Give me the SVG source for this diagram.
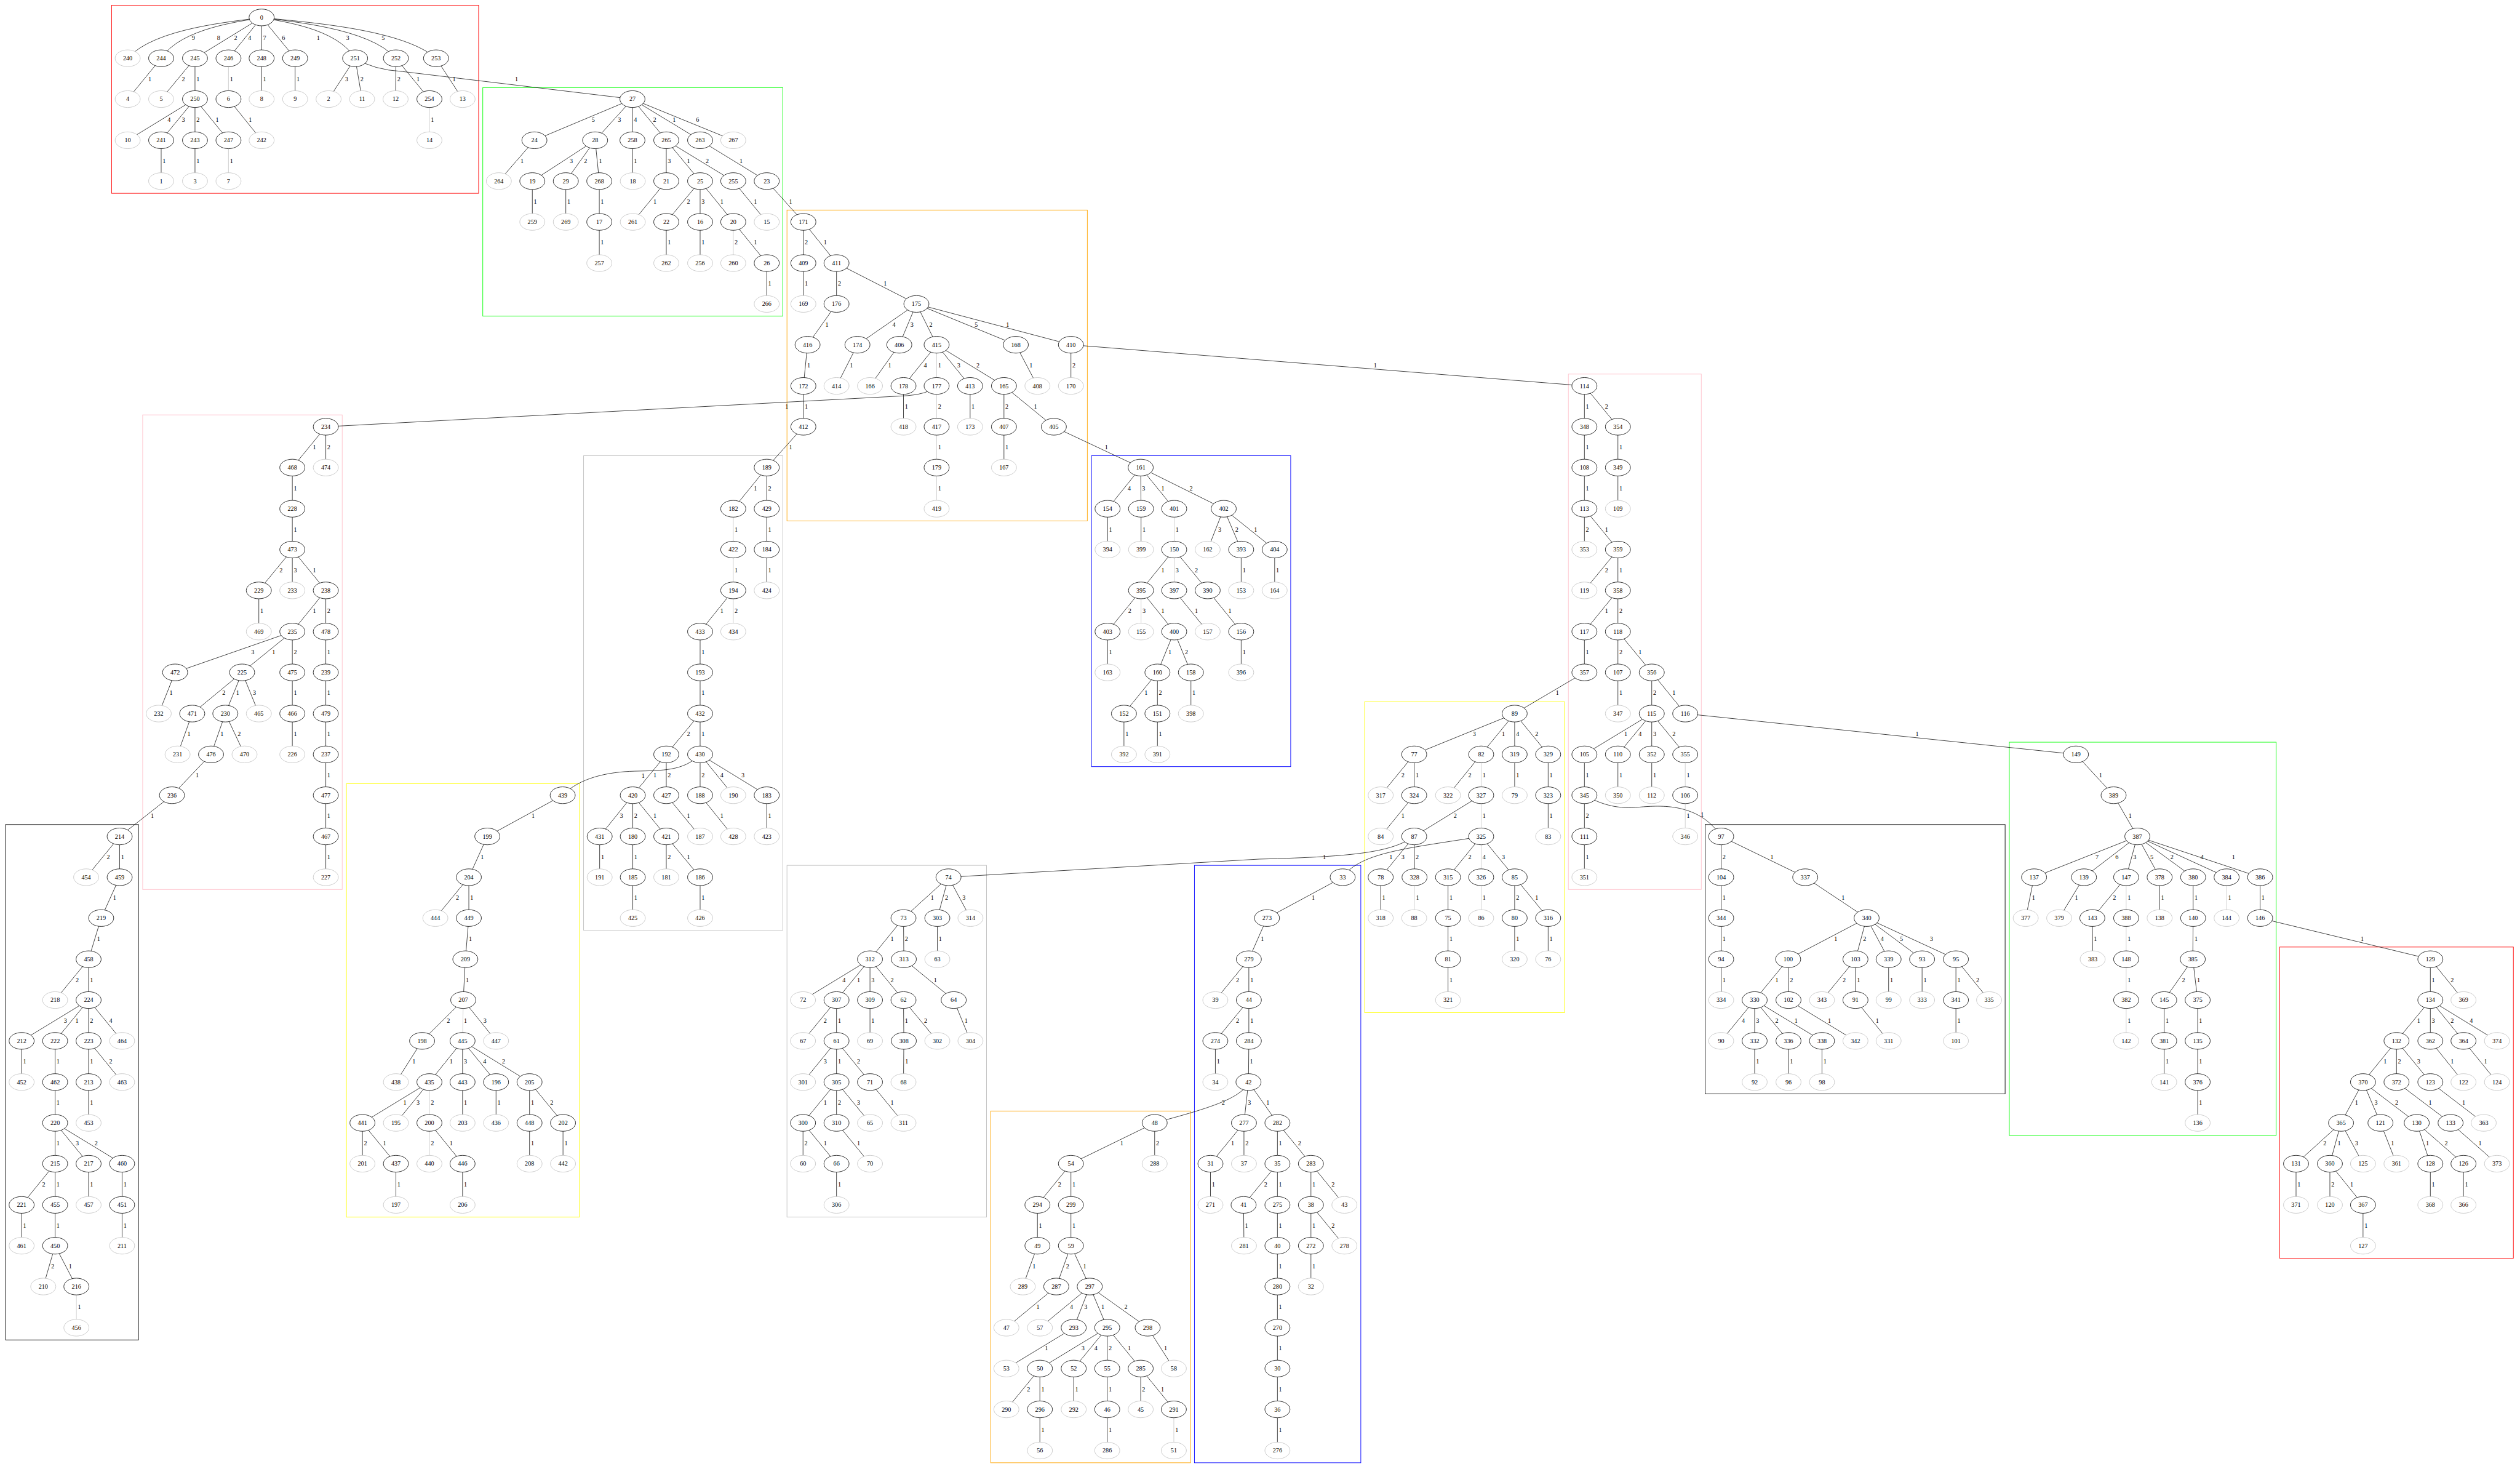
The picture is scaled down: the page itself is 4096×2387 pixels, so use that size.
<svg xmlns="http://www.w3.org/2000/svg" width="4096" height="2387" viewBox="0 0 4096 2387">
<style>
.cl{fill:none;stroke-width:1.6}
#connectors path{fill:none;stroke:#000;stroke-width:1.3}
#connectors path.g{stroke:#c0c0c0}
text{font-family:"Liberation Serif","Times New Roman",serif;font-size:18px;fill:#000}
.n text{text-anchor:middle}
.n ellipse{fill:#fff;stroke:#000;stroke-width:1.4}
.n.l ellipse{stroke:#c0c0c0}
</style>
<rect x="0" y="0" width="4096" height="2387" fill="#fff"/>
<g transform="scale(0.567)">
<g id="clusters">
<rect class="cl" x="320" y="15" width="1052" height="539" stroke="#ff0000"/>
<rect class="cl" x="1384" y="251" width="860" height="655" stroke="#00ff00"/>
<rect class="cl" x="2256" y="602" width="861" height="891" stroke="#ffa500"/>
<rect class="cl" x="409" y="1189" width="572" height="1360" stroke="#ffc0cb"/>
<rect class="cl" x="1673" y="1306" width="571" height="1360" stroke="#c0c0c0"/>
<rect class="cl" x="3129" y="1306" width="571" height="891" stroke="#0000ff"/>
<rect class="cl" x="4496" y="1072" width="381" height="1477" stroke="#ffc0cb"/>
<rect class="cl" x="3912" y="2011" width="573" height="891" stroke="#ffff00"/>
<rect class="cl" x="993" y="2246" width="668" height="1242" stroke="#ffff00"/>
<rect class="cl" x="16" y="2363" width="381" height="1477" stroke="#000000"/>
<rect class="cl" x="2256" y="2480" width="572" height="1008" stroke="#c0c0c0"/>
<rect class="cl" x="3424" y="2480" width="477" height="1712" stroke="#0000ff"/>
<rect class="cl" x="2840" y="3184" width="573" height="1008" stroke="#ffa500"/>
<rect class="cl" x="4888" y="2363" width="860" height="772" stroke="#000000"/>
<rect class="cl" x="5760" y="2127" width="765" height="1127" stroke="#00ff00"/>
<rect class="cl" x="6535" y="2714" width="670" height="892" stroke="#ff0000"/>
</g>
<g id="connectors">
<path d="M750 50C673 62 443 79 366 167"/><text x="550" y="115">9</text>
<path d="M750 50C692 62 520 79 462 167"/><text x="622" y="115">8</text>
<path d="M750 50L559 167"/><text x="671" y="115">2</text>
<path d="M750 50L655 167"/><text x="711" y="115">4</text>
<path d="M750 50L750 167"/><text x="754" y="115">7</text>
<path d="M750 50L846 167"/><text x="808" y="115">6</text>
<path d="M750 50C804 62 964 79 1018 167"/><text x="908" y="115">1</text>
<path d="M750 50C827 62 1058 79 1135 167"/><text x="992" y="115">3</text>
<path d="M750 50C850 62 1150 79 1250 167"/><text x="1094" y="115">5</text>
<path d="M462 167L366 284"/><text x="425" y="232">1</text>
<path d="M559 167L462 284"/><text x="521" y="232">2</text>
<path d="M559 167L559 284"/><text x="563" y="232">1</text>
<path class="g" d="M655 167L655 284"/><text x="659" y="232">1</text>
<path d="M750 167L750 284"/><text x="754" y="232">1</text>
<path d="M846 167L846 284"/><text x="850" y="232">1</text>
<path d="M1018 167L942 284"/><text x="989" y="232">3</text>
<path d="M1018 167L1038 284"/><text x="1033" y="232">2</text>
<path d="M1018 167Q1070 200 1154 205L1813 284"/><text x="1476" y="233">1</text>
<path d="M1135 167L1134 284"/><text x="1139" y="232">2</text>
<path d="M1135 167L1231 284"/><text x="1194" y="232">1</text>
<path d="M1250 167L1326 284"/><text x="1297" y="232">1</text>
<path d="M559 284L366 402"/><text x="480" y="349">4</text>
<path d="M559 284L462 402"/><text x="521" y="349">3</text>
<path d="M559 284L559 402"/><text x="563" y="349">2</text>
<path d="M559 284L655 402"/><text x="618" y="349">1</text>
<path d="M655 284L750 402"/><text x="713" y="349">1</text>
<path class="g" d="M1231 284L1231 402"/><text x="1235" y="349">1</text>
<path d="M462 402L462 519"/><text x="466" y="467">1</text>
<path d="M559 402L559 519"/><text x="563" y="467">1</text>
<path class="g" d="M655 402L655 519"/><text x="659" y="467">1</text>
<path d="M1813 284L1532 402"/><text x="1696" y="349">5</text>
<path d="M1813 284L1706 402"/><text x="1771" y="349">3</text>
<path d="M1813 284L1813 402"/><text x="1817" y="349">4</text>
<path d="M1813 284L1910 402"/><text x="1872" y="349">2</text>
<path d="M1813 284L2007 402"/><text x="1928" y="349">1</text>
<path d="M1813 284L2102 402"/><text x="1995" y="349">6</text>
<path d="M1532 402L1430 519"/><text x="1492" y="467">1</text>
<path d="M1706 402L1526 519"/><text x="1633" y="467">3</text>
<path d="M1706 402L1622 519"/><text x="1674" y="467">2</text>
<path d="M1706 402L1718 519"/><text x="1717" y="467">1</text>
<path d="M1813 402L1814 519"/><text x="1817" y="467">1</text>
<path d="M1910 402L1910 519"/><text x="1914" y="467">3</text>
<path d="M1910 402L2007 519"/><text x="1969" y="467">1</text>
<path d="M1910 402L2102 519"/><text x="2023" y="467">2</text>
<path d="M2007 402L2198 519"/><text x="2120" y="467">1</text>
<path d="M1526 519L1526 636"/><text x="1530" y="584">1</text>
<path d="M1622 519L1622 636"/><text x="1626" y="584">1</text>
<path d="M1718 519L1718 636"/><text x="1722" y="584">1</text>
<path d="M1910 519L1814 636"/><text x="1873" y="584">1</text>
<path d="M2007 519L1910 636"/><text x="1969" y="584">2</text>
<path d="M2007 519L2007 636"/><text x="2011" y="584">3</text>
<path d="M2007 519L2102 636"/><text x="2065" y="584">1</text>
<path d="M2102 519L2198 636"/><text x="2161" y="584">1</text>
<path d="M2198 519L2303 636"/><text x="2262" y="584">1</text>
<path d="M1718 636L1718 754"/><text x="1722" y="701">1</text>
<path d="M1910 636L1910 754"/><text x="1914" y="701">1</text>
<path d="M2007 636L2007 754"/><text x="2011" y="701">1</text>
<path class="g" d="M2102 636L2102 754"/><text x="2106" y="701">2</text>
<path d="M2102 636L2198 754"/><text x="2161" y="701">1</text>
<path d="M2198 754L2198 871"/><text x="2202" y="819">1</text>
<path d="M2303 636L2303 754"/><text x="2307" y="701">2</text>
<path d="M2303 636L2398 754"/><text x="2361" y="701">1</text>
<path d="M2303 754L2303 871"/><text x="2307" y="819">1</text>
<path d="M2398 754L2398 871"/><text x="2402" y="819">2</text>
<path d="M2398 754L2627 871"/><text x="2533" y="819">1</text>
<path d="M2398 871L2315 988"/><text x="2366" y="936">1</text>
<path d="M2627 871L2458 988"/><text x="2558" y="936">4</text>
<path d="M2627 871L2578 988"/><text x="2610" y="936">3</text>
<path d="M2627 871L2685 988"/><text x="2664" y="936">2</text>
<path d="M2627 871L2912 988"/><text x="2794" y="936">5</text>
<path d="M2627 871L3070 988"/><text x="2884" y="936">1</text>
<path d="M2315 988L2303 1106"/><text x="2314" y="1053">1</text>
<path d="M2458 988L2398 1106"/><text x="2436" y="1053">1</text>
<path d="M2578 988L2494 1106"/><text x="2546" y="1053">1</text>
<path d="M2685 988L2590 1106"/><text x="2648" y="1053">4</text>
<path class="g" d="M2685 988L2685 1106"/><text x="2689" y="1053">1</text>
<path d="M2685 988L2781 1106"/><text x="2744" y="1053">3</text>
<path d="M2685 988L2878 1106"/><text x="2799" y="1053">2</text>
<path d="M2912 988L2974 1106"/><text x="2951" y="1053">1</text>
<path d="M3070 988L3070 1106"/><text x="3074" y="1053">2</text>
<path d="M3070 988L4542 1106"/><text x="3938" y="1053">1</text>
<path d="M2303 1106L2303 1223"/><text x="2307" y="1171">1</text>
<path d="M2590 1106L2590 1223"/><text x="2594" y="1171">1</text>
<path class="g" d="M2685 1106L2685 1223"/><text x="2689" y="1171">2</text>
<path d="M2685 1106Q2660 1130 2600 1134L934 1223"/><text x="2251" y="1171">1</text>
<path d="M2781 1106L2781 1223"/><text x="2785" y="1171">1</text>
<path d="M2878 1106L2878 1223"/><text x="2882" y="1171">2</text>
<path d="M2878 1106L3021 1223"/><text x="2964" y="1171">1</text>
<path d="M2303 1223L2198 1340"/><text x="2262" y="1288">1</text>
<path class="g" d="M2685 1223L2685 1340"/><text x="2689" y="1288">1</text>
<path d="M2878 1223L2878 1340"/><text x="2882" y="1288">1</text>
<path d="M3021 1223L3270 1340"/><text x="3167" y="1288">1</text>
<path class="g" d="M2685 1340L2685 1458"/><text x="2689" y="1405">1</text>
<path d="M3270 1340L3175 1458"/><text x="3233" y="1405">4</text>
<path d="M3270 1340L3271 1458"/><text x="3274" y="1405">3</text>
<path d="M3270 1340L3366 1458"/><text x="3329" y="1405">1</text>
<path d="M3270 1340L3508 1458"/><text x="3410" y="1405">2</text>
<path d="M3175 1458L3175 1575"/><text x="3179" y="1523">1</text>
<path d="M3271 1458L3271 1575"/><text x="3275" y="1523">1</text>
<path class="g" d="M3366 1458L3366 1575"/><text x="3370" y="1523">1</text>
<path d="M3508 1458L3462 1575"/><text x="3492" y="1523">3</text>
<path d="M3508 1458L3558 1575"/><text x="3541" y="1523">2</text>
<path d="M3508 1458L3654 1575"/><text x="3595" y="1523">1</text>
<path d="M3366 1575L3271 1692"/><text x="3329" y="1640">1</text>
<path class="g" d="M3366 1575L3366 1692"/><text x="3370" y="1640">3</text>
<path d="M3366 1575L3462 1692"/><text x="3425" y="1640">2</text>
<path d="M3558 1575L3558 1692"/><text x="3562" y="1640">1</text>
<path d="M3654 1575L3654 1692"/><text x="3658" y="1640">1</text>
<path d="M3271 1692L3175 1810"/><text x="3234" y="1757">2</text>
<path class="g" d="M3271 1692L3271 1810"/><text x="3275" y="1757">3</text>
<path d="M3271 1692L3366 1810"/><text x="3329" y="1757">1</text>
<path d="M3366 1692L3462 1810"/><text x="3425" y="1757">1</text>
<path d="M3462 1692L3558 1810"/><text x="3521" y="1757">1</text>
<path d="M3175 1810L3175 1927"/><text x="3179" y="1875">1</text>
<path d="M3366 1810L3318 1927"/><text x="3349" y="1875">1</text>
<path d="M3366 1810L3414 1927"/><text x="3397" y="1875">2</text>
<path d="M3558 1810L3558 1927"/><text x="3562" y="1875">1</text>
<path d="M3318 1927L3222 2045"/><text x="3281" y="1992">1</text>
<path d="M3318 1927L3318 2045"/><text x="3322" y="1992">2</text>
<path d="M3414 1927L3414 2045"/><text x="3418" y="1992">1</text>
<path d="M3222 2045L3222 2162"/><text x="3226" y="2110">1</text>
<path d="M3318 2045L3318 2162"/><text x="3322" y="2110">1</text>
<path d="M2198 1340L2102 1458"/><text x="2161" y="1405">1</text>
<path d="M2198 1340L2198 1458"/><text x="2202" y="1405">2</text>
<path class="g" d="M2102 1458L2102 1575"/><text x="2106" y="1523">1</text>
<path d="M2198 1458L2198 1575"/><text x="2202" y="1523">1</text>
<path class="g" d="M2102 1575L2102 1692"/><text x="2106" y="1640">1</text>
<path d="M2198 1575L2198 1692"/><text x="2202" y="1640">1</text>
<path d="M2102 1692L2007 1810"/><text x="2065" y="1757">1</text>
<path class="g" d="M2102 1692L2102 1810"/><text x="2106" y="1757">2</text>
<path d="M2007 1810L2007 1927"/><text x="2011" y="1875">1</text>
<path d="M2007 1927L2007 2045"/><text x="2011" y="1992">1</text>
<path d="M2007 2045L1910 2162"/><text x="1969" y="2110">2</text>
<path d="M2007 2045L2007 2162"/><text x="2011" y="2110">1</text>
<path d="M1910 2162L1814 2279"/><text x="1873" y="2227">1</text>
<path d="M1910 2162L1910 2279"/><text x="1914" y="2227">2</text>
<path d="M2007 2162C1960 2210 1900 2208 1820 2210C1740 2212 1660 2230 1613 2279"/><text x="1839" y="2229">1</text>
<path d="M2007 2162L2007 2279"/><text x="2011" y="2227">2</text>
<path d="M2007 2162L2102 2279"/><text x="2065" y="2227">4</text>
<path d="M2007 2162L2198 2279"/><text x="2125" y="2227">3</text>
<path d="M1814 2279L1719 2397"/><text x="1777" y="2344">3</text>
<path d="M1814 2279L1814 2397"/><text x="1818" y="2344">2</text>
<path d="M1814 2279L1910 2397"/><text x="1873" y="2344">1</text>
<path d="M1910 2279L2007 2397"/><text x="1969" y="2344">1</text>
<path d="M2007 2279L2102 2397"/><text x="2065" y="2344">1</text>
<path d="M2198 2279L2198 2397"/><text x="2202" y="2344">1</text>
<path d="M1719 2397L1719 2514"/><text x="1723" y="2462">1</text>
<path d="M1814 2397L1814 2514"/><text x="1818" y="2462">1</text>
<path d="M1910 2397L1910 2514"/><text x="1914" y="2462">2</text>
<path d="M1910 2397L2007 2514"/><text x="1969" y="2462">1</text>
<path d="M1814 2514L1814 2631"/><text x="1818" y="2579">1</text>
<path d="M2007 2514L2007 2631"/><text x="2011" y="2579">1</text>
<path d="M1613 2279L1397 2397"/><text x="1524" y="2344">1</text>
<path d="M1397 2397L1344 2514"/><text x="1378" y="2462">1</text>
<path d="M1344 2514L1248 2631"/><text x="1307" y="2579">2</text>
<path d="M1344 2514L1344 2631"/><text x="1348" y="2579">1</text>
<path d="M1344 2631L1334 2749"/><text x="1344" y="2696">1</text>
<path d="M1334 2749L1328 2866"/><text x="1335" y="2814">1</text>
<path d="M1328 2866L1210 2983"/><text x="1281" y="2931">2</text>
<path class="g" d="M1328 2866L1326 2983"/><text x="1330" y="2931">1</text>
<path d="M1328 2866L1422 2983"/><text x="1386" y="2931">3</text>
<path d="M1210 2983L1135 3101"/><text x="1182" y="3048">1</text>
<path d="M1326 2983L1231 3101"/><text x="1289" y="3048">1</text>
<path d="M1326 2983L1326 3101"/><text x="1330" y="3048">3</text>
<path d="M1326 2983L1422 3101"/><text x="1385" y="3048">4</text>
<path d="M1326 2983L1518 3101"/><text x="1439" y="3048">2</text>
<path d="M1231 3101L1039 3218"/><text x="1156" y="3166">1</text>
<path d="M1231 3101L1135 3218"/><text x="1194" y="3166">3</text>
<path class="g" d="M1231 3101L1231 3218"/><text x="1235" y="3166">2</text>
<path d="M1326 3101L1326 3218"/><text x="1330" y="3166">1</text>
<path d="M1422 3101L1422 3218"/><text x="1426" y="3166">1</text>
<path d="M1518 3101L1518 3218"/><text x="1522" y="3166">1</text>
<path d="M1518 3101L1614 3218"/><text x="1577" y="3166">2</text>
<path d="M1039 3218L1039 3335"/><text x="1043" y="3283">2</text>
<path d="M1039 3218L1135 3335"/><text x="1098" y="3283">1</text>
<path class="g" d="M1231 3218L1231 3335"/><text x="1235" y="3283">2</text>
<path d="M1231 3218L1326 3335"/><text x="1289" y="3283">1</text>
<path d="M1518 3218L1518 3335"/><text x="1522" y="3283">1</text>
<path d="M1614 3218L1614 3335"/><text x="1618" y="3283">1</text>
<path d="M1135 3335L1135 3453"/><text x="1139" y="3400">1</text>
<path d="M1326 3335L1326 3453"/><text x="1330" y="3400">1</text>
<path d="M934 1223L838 1340"/><text x="897" y="1288">1</text>
<path d="M934 1223L934 1340"/><text x="938" y="1288">2</text>
<path d="M838 1340L838 1458"/><text x="842" y="1405">1</text>
<path d="M838 1458L838 1575"/><text x="842" y="1523">1</text>
<path d="M838 1575L742 1692"/><text x="801" y="1640">2</text>
<path d="M838 1575L838 1692"/><text x="842" y="1640">3</text>
<path d="M838 1575L934 1692"/><text x="897" y="1640">1</text>
<path d="M742 1692L742 1810"/><text x="746" y="1757">1</text>
<path d="M934 1692L838 1810"/><text x="897" y="1757">1</text>
<path d="M934 1692L934 1810"/><text x="938" y="1757">2</text>
<path d="M838 1810L502 1927"/><text x="720" y="1875">3</text>
<path d="M838 1810L694 1927"/><text x="780" y="1875">1</text>
<path d="M838 1810L838 1927"/><text x="842" y="1875">2</text>
<path d="M934 1810L934 1927"/><text x="938" y="1875">1</text>
<path d="M502 1927L455 2045"/><text x="486" y="1992">1</text>
<path d="M694 1927L551 2045"/><text x="637" y="1992">2</text>
<path d="M694 1927L646 2045"/><text x="677" y="1992">1</text>
<path d="M694 1927L742 2045"/><text x="725" y="1992">3</text>
<path d="M838 1927L838 2045"/><text x="842" y="1992">1</text>
<path d="M934 1927L934 2045"/><text x="938" y="1992">1</text>
<path d="M551 2045L509 2162"/><text x="537" y="2110">1</text>
<path d="M646 2045L605 2162"/><text x="632" y="2110">1</text>
<path d="M646 2045L701 2162"/><text x="681" y="2110">2</text>
<path d="M838 2045L838 2162"/><text x="842" y="2110">1</text>
<path d="M934 2045L934 2162"/><text x="938" y="2110">1</text>
<path d="M605 2162L493 2279"/><text x="561" y="2227">1</text>
<path d="M934 2162L934 2279"/><text x="938" y="2227">1</text>
<path d="M493 2279L343 2397"/><text x="432" y="2344">1</text>
<path d="M934 2279L934 2397"/><text x="938" y="2344">1</text>
<path d="M934 2397L934 2514"/><text x="938" y="2462">1</text>
<path d="M343 2397L247 2514"/><text x="306" y="2462">2</text>
<path d="M343 2397L343 2514"/><text x="347" y="2462">1</text>
<path d="M343 2514L290 2631"/><text x="324" y="2579">1</text>
<path d="M290 2631L254 2749"/><text x="278" y="2696">1</text>
<path d="M254 2749L158 2866"/><text x="217" y="2814">2</text>
<path d="M254 2749L254 2866"/><text x="258" y="2814">1</text>
<path d="M254 2866L62 2983"/><text x="183" y="2931">3</text>
<path d="M254 2866L158 2983"/><text x="216" y="2931">1</text>
<path d="M254 2866L254 2983"/><text x="258" y="2931">2</text>
<path d="M254 2866L350 2983"/><text x="313" y="2931">4</text>
<path d="M62 2983L62 3101"/><text x="66" y="3048">1</text>
<path d="M158 2983L158 3101"/><text x="162" y="3048">1</text>
<path d="M254 2983L254 3101"/><text x="258" y="3048">1</text>
<path d="M254 2983L350 3101"/><text x="313" y="3048">2</text>
<path d="M158 3101L158 3218"/><text x="162" y="3166">1</text>
<path d="M254 3101L254 3218"/><text x="258" y="3166">1</text>
<path d="M158 3218L158 3335"/><text x="162" y="3283">1</text>
<path d="M158 3218L254 3335"/><text x="217" y="3283">3</text>
<path d="M158 3218L350 3335"/><text x="271" y="3283">2</text>
<path d="M158 3335L62 3453"/><text x="121" y="3400">2</text>
<path d="M158 3335L158 3453"/><text x="162" y="3400">1</text>
<path d="M254 3335L254 3453"/><text x="258" y="3400">1</text>
<path d="M350 3335L350 3453"/><text x="354" y="3400">1</text>
<path d="M62 3453L62 3570"/><text x="66" y="3518">1</text>
<path d="M158 3453L158 3570"/><text x="162" y="3518">1</text>
<path d="M350 3453L350 3570"/><text x="354" y="3518">1</text>
<path d="M158 3570L124 3687"/><text x="147" y="3635">2</text>
<path d="M158 3570L219 3687"/><text x="197" y="3635">1</text>
<path class="g" d="M219 3687L219 3805"/><text x="223" y="3752">1</text>
<path d="M4054 2397C3990 2440 3900 2455 3610 2462L2719 2514"/><text x="3792" y="2462">1</text>
<path d="M2719 2514L2590 2631"/><text x="2668" y="2579">1</text>
<path d="M2719 2514L2687 2631"/><text x="2709" y="2579">2</text>
<path d="M2719 2514L2782 2631"/><text x="2759" y="2579">3</text>
<path d="M2590 2631L2494 2749"/><text x="2553" y="2696">1</text>
<path d="M2590 2631L2591 2749"/><text x="2594" y="2696">2</text>
<path d="M2687 2631L2687 2749"/><text x="2691" y="2696">1</text>
<path d="M2494 2749L2302 2866"/><text x="2415" y="2814">4</text>
<path d="M2494 2749L2398 2866"/><text x="2457" y="2814">1</text>
<path d="M2494 2749L2494 2866"/><text x="2498" y="2814">3</text>
<path d="M2494 2749L2590 2866"/><text x="2553" y="2814">2</text>
<path d="M2591 2749L2734 2866"/><text x="2677" y="2814">1</text>
<path d="M2398 2866L2302 2983"/><text x="2361" y="2931">2</text>
<path d="M2398 2866L2398 2983"/><text x="2402" y="2931">1</text>
<path d="M2494 2866L2494 2983"/><text x="2498" y="2931">1</text>
<path d="M2590 2866L2591 2983"/><text x="2594" y="2931">1</text>
<path d="M2590 2866L2687 2983"/><text x="2649" y="2931">2</text>
<path d="M2734 2866L2782 2983"/><text x="2765" y="2931">1</text>
<path d="M2398 2983L2302 3101"/><text x="2361" y="3048">3</text>
<path d="M2398 2983L2398 3101"/><text x="2402" y="3048">1</text>
<path d="M2398 2983L2494 3101"/><text x="2457" y="3048">2</text>
<path d="M2591 2983L2590 3101"/><text x="2595" y="3048">1</text>
<path d="M2398 3101L2302 3218"/><text x="2361" y="3166">1</text>
<path d="M2398 3101L2398 3218"/><text x="2402" y="3166">2</text>
<path d="M2398 3101L2494 3218"/><text x="2457" y="3166">3</text>
<path d="M2494 3101L2590 3218"/><text x="2553" y="3166">1</text>
<path d="M2302 3218L2302 3335"/><text x="2306" y="3283">2</text>
<path d="M2302 3218L2398 3335"/><text x="2361" y="3283">1</text>
<path d="M2398 3218L2494 3335"/><text x="2457" y="3283">1</text>
<path d="M2398 3335L2398 3453"/><text x="2402" y="3400">1</text>
<path d="M3579 3101C3560 3150 3450 3180 3310 3218"/><text x="3502" y="3166">2</text>
<path d="M3310 3218L3070 3335"/><text x="3211" y="3283">1</text>
<path d="M3310 3218L3310 3335"/><text x="3314" y="3283">2</text>
<path d="M3070 3335L2974 3453"/><text x="3033" y="3400">2</text>
<path d="M3070 3335L3070 3453"/><text x="3074" y="3400">1</text>
<path d="M2974 3453L2974 3570"/><text x="2978" y="3518">1</text>
<path d="M3070 3453L3070 3570"/><text x="3074" y="3518">1</text>
<path d="M2974 3570L2932 3687"/><text x="2960" y="3635">1</text>
<path d="M3070 3570L3028 3687"/><text x="3056" y="3635">2</text>
<path d="M3070 3570L3124 3687"/><text x="3105" y="3635">1</text>
<path d="M3028 3687L2885 3805"/><text x="2971" y="3752">1</text>
<path d="M3124 3687L2981 3805"/><text x="3067" y="3752">4</text>
<path d="M3124 3687L3078 3805"/><text x="3108" y="3752">3</text>
<path d="M3124 3687L3174 3805"/><text x="3157" y="3752">1</text>
<path d="M3124 3687L3290 3805"/><text x="3223" y="3752">2</text>
<path d="M3078 3805L2885 3922"/><text x="2995" y="3870">1</text>
<path d="M3174 3805L2981 3922"/><text x="3100" y="3870">3</text>
<path d="M3174 3805L3078 3922"/><text x="3137" y="3870">4</text>
<path d="M3174 3805L3174 3922"/><text x="3178" y="3870">2</text>
<path d="M3174 3805L3270 3922"/><text x="3233" y="3870">1</text>
<path d="M3290 3805L3365 3922"/><text x="3337" y="3870">1</text>
<path d="M2981 3922L2885 4039"/><text x="2944" y="3987">2</text>
<path d="M2981 3922L2981 4039"/><text x="2985" y="3987">1</text>
<path d="M3078 3922L3078 4039"/><text x="3082" y="3987">1</text>
<path d="M3174 3922L3174 4039"/><text x="3178" y="3987">1</text>
<path d="M3270 3922L3270 4039"/><text x="3274" y="3987">2</text>
<path d="M3270 3922L3365 4039"/><text x="3328" y="3987">1</text>
<path d="M2981 4039L2981 4157"/><text x="2985" y="4104">1</text>
<path d="M3174 4039L3174 4157"/><text x="3178" y="4104">1</text>
<path class="g" d="M3365 4039L3365 4157"/><text x="3369" y="4104">1</text>
<path d="M4246 2397C4050 2430 3900 2440 3849 2514"/><text x="3983" y="2462">1</text>
<path d="M3849 2514L3632 2631"/><text x="3760" y="2579">1</text>
<path d="M3632 2631L3580 2749"/><text x="3614" y="2696">1</text>
<path d="M3580 2749L3484 2866"/><text x="3543" y="2814">2</text>
<path d="M3580 2749L3580 2866"/><text x="3584" y="2814">1</text>
<path d="M3580 2866L3484 2983"/><text x="3543" y="2931">2</text>
<path d="M3580 2866L3580 2983"/><text x="3584" y="2931">1</text>
<path d="M3484 2983L3484 3101"/><text x="3488" y="3048">1</text>
<path d="M3580 2983L3579 3101"/><text x="3583" y="3048">1</text>
<path d="M3579 3101L3566 3218"/><text x="3577" y="3166">3</text>
<path d="M3579 3101L3662 3218"/><text x="3630" y="3166">1</text>
<path d="M3566 3218L3470 3335"/><text x="3529" y="3283">1</text>
<path d="M3566 3218L3566 3335"/><text x="3570" y="3283">2</text>
<path d="M3662 3218L3662 3335"/><text x="3666" y="3283">1</text>
<path d="M3662 3218L3758 3335"/><text x="3721" y="3283">2</text>
<path d="M3470 3335L3470 3453"/><text x="3474" y="3400">1</text>
<path d="M3662 3335L3565 3453"/><text x="3624" y="3400">2</text>
<path d="M3662 3335L3662 3453"/><text x="3666" y="3400">1</text>
<path d="M3758 3335L3758 3453"/><text x="3762" y="3400">1</text>
<path d="M3758 3335L3854 3453"/><text x="3817" y="3400">2</text>
<path d="M3565 3453L3566 3570"/><text x="3569" y="3518">1</text>
<path d="M3662 3453L3662 3570"/><text x="3666" y="3518">1</text>
<path d="M3758 3453L3758 3570"/><text x="3762" y="3518">1</text>
<path d="M3758 3453L3854 3570"/><text x="3817" y="3518">2</text>
<path d="M3662 3570L3662 3687"/><text x="3666" y="3635">1</text>
<path d="M3758 3570L3758 3687"/><text x="3762" y="3635">1</text>
<path d="M3662 3687L3662 3805"/><text x="3666" y="3752">1</text>
<path d="M3662 3805L3662 3922"/><text x="3666" y="3870">1</text>
<path d="M3662 3922L3662 4039"/><text x="3666" y="3987">1</text>
<path d="M3662 4039L3662 4157"/><text x="3666" y="4104">1</text>
<path d="M4542 1106L4542 1223"/><text x="4546" y="1171">1</text>
<path d="M4542 1106L4638 1223"/><text x="4601" y="1171">2</text>
<path d="M4542 1223L4542 1340"/><text x="4546" y="1288">1</text>
<path d="M4638 1223L4638 1340"/><text x="4642" y="1288">1</text>
<path d="M4542 1340L4542 1458"/><text x="4546" y="1405">1</text>
<path d="M4638 1340L4638 1458"/><text x="4642" y="1405">1</text>
<path d="M4542 1458L4542 1575"/><text x="4546" y="1523">2</text>
<path d="M4542 1458L4638 1575"/><text x="4601" y="1523">1</text>
<path d="M4638 1575L4542 1692"/><text x="4601" y="1640">2</text>
<path d="M4638 1575L4638 1692"/><text x="4642" y="1640">1</text>
<path d="M4638 1692L4542 1810"/><text x="4601" y="1757">1</text>
<path d="M4638 1692L4638 1810"/><text x="4642" y="1757">2</text>
<path d="M4542 1810L4542 1927"/><text x="4546" y="1875">1</text>
<path d="M4638 1810L4638 1927"/><text x="4642" y="1875">2</text>
<path d="M4638 1810L4735 1927"/><text x="4697" y="1875">1</text>
<path d="M4542 1927L4342 2045"/><text x="4460" y="1992">1</text>
<path d="M4638 1927L4638 2045"/><text x="4642" y="1992">1</text>
<path d="M4735 1927L4735 2045"/><text x="4739" y="1992">2</text>
<path d="M4735 1927L4831 2045"/><text x="4794" y="1992">1</text>
<path d="M4735 2045L4542 2162"/><text x="4656" y="2110">1</text>
<path d="M4735 2045L4638 2162"/><text x="4697" y="2110">4</text>
<path d="M4735 2045L4735 2162"/><text x="4739" y="2110">3</text>
<path d="M4735 2045L4831 2162"/><text x="4794" y="2110">2</text>
<path d="M4831 2045L5951 2162"/><text x="5491" y="2110">1</text>
<path d="M4542 2162L4542 2279"/><text x="4546" y="2227">1</text>
<path d="M4638 2162L4638 2279"/><text x="4642" y="2227">1</text>
<path d="M4735 2162L4735 2279"/><text x="4739" y="2227">1</text>
<path class="g" d="M4831 2162L4831 2279"/><text x="4835" y="2227">1</text>
<path d="M4542 2279L4542 2397"/><text x="4546" y="2344">2</text>
<path d="M4542 2279C4600 2310 4640 2318 4700 2313S4870 2300 4934 2397"/><text x="4875" y="2340">1</text>
<path class="g" d="M4831 2279L4831 2397"/><text x="4835" y="2344">1</text>
<path d="M4542 2397L4542 2514"/><text x="4546" y="2462">1</text>
<path d="M4342 2045L4054 2162"/><text x="4222" y="2110">3</text>
<path d="M4342 2045L4246 2162"/><text x="4305" y="2110">1</text>
<path d="M4342 2045L4342 2162"/><text x="4346" y="2110">4</text>
<path d="M4342 2045L4438 2162"/><text x="4401" y="2110">2</text>
<path d="M4054 2162L3958 2279"/><text x="4017" y="2227">2</text>
<path d="M4054 2162L4054 2279"/><text x="4058" y="2227">1</text>
<path d="M4246 2162L4151 2279"/><text x="4209" y="2227">2</text>
<path class="g" d="M4246 2162L4246 2279"/><text x="4250" y="2227">1</text>
<path d="M4342 2162L4342 2279"/><text x="4346" y="2227">1</text>
<path d="M4438 2162L4438 2279"/><text x="4442" y="2227">1</text>
<path d="M4054 2279L3958 2397"/><text x="4017" y="2344">1</text>
<path d="M4246 2279L4054 2397"/><text x="4167" y="2344">2</text>
<path class="g" d="M4246 2279L4246 2397"/><text x="4250" y="2344">1</text>
<path d="M4438 2279L4438 2397"/><text x="4442" y="2344">1</text>
<path d="M4054 2397L3958 2514"/><text x="4017" y="2462">3</text>
<path d="M4054 2397L4055 2514"/><text x="4058" y="2462">2</text>
<path d="M4246 2397L4151 2514"/><text x="4209" y="2462">2</text>
<path class="g" d="M4246 2397L4246 2514"/><text x="4250" y="2462">4</text>
<path d="M4246 2397L4342 2514"/><text x="4305" y="2462">3</text>
<path d="M3958 2514L3958 2631"/><text x="3962" y="2579">1</text>
<path class="g" d="M4055 2514L4054 2631"/><text x="4059" y="2579">1</text>
<path d="M4151 2514L4151 2631"/><text x="4155" y="2579">1</text>
<path class="g" d="M4246 2514L4246 2631"/><text x="4250" y="2579">1</text>
<path d="M4342 2514L4342 2631"/><text x="4346" y="2579">2</text>
<path d="M4342 2514L4438 2631"/><text x="4401" y="2579">1</text>
<path d="M4151 2631L4151 2749"/><text x="4155" y="2696">1</text>
<path d="M4342 2631L4342 2749"/><text x="4346" y="2696">1</text>
<path d="M4438 2631L4438 2749"/><text x="4442" y="2696">1</text>
<path d="M4151 2749L4151 2866"/><text x="4155" y="2814">1</text>
<path d="M4934 2397L4934 2514"/><text x="4938" y="2462">2</text>
<path d="M4934 2397L5175 2514"/><text x="5075" y="2462">1</text>
<path d="M4934 2514L4934 2631"/><text x="4938" y="2579">1</text>
<path d="M5175 2514L5351 2631"/><text x="5279" y="2579">1</text>
<path d="M4934 2631L4934 2749"/><text x="4938" y="2696">1</text>
<path d="M5351 2631L5126 2749"/><text x="5258" y="2696">1</text>
<path d="M5351 2631L5319 2749"/><text x="5341" y="2696">2</text>
<path d="M5351 2631L5414 2749"/><text x="5391" y="2696">4</text>
<path d="M5351 2631L5510 2749"/><text x="5446" y="2696">5</text>
<path d="M5351 2631L5607 2749"/><text x="5532" y="2696">3</text>
<path d="M4934 2749L4934 2866"/><text x="4938" y="2814">1</text>
<path d="M5126 2749L5030 2866"/><text x="5089" y="2814">1</text>
<path d="M5126 2749L5127 2866"/><text x="5131" y="2814">2</text>
<path d="M5319 2749L5223 2866"/><text x="5282" y="2814">2</text>
<path d="M5319 2749L5319 2866"/><text x="5323" y="2814">1</text>
<path d="M5414 2749L5414 2866"/><text x="5418" y="2814">1</text>
<path d="M5510 2749L5510 2866"/><text x="5514" y="2814">1</text>
<path d="M5607 2749L5607 2866"/><text x="5611" y="2814">1</text>
<path d="M5607 2749L5702 2866"/><text x="5665" y="2814">2</text>
<path d="M5030 2866L4934 2983"/><text x="4993" y="2931">4</text>
<path d="M5030 2866L5030 2983"/><text x="5034" y="2931">3</text>
<path d="M5030 2866L5127 2983"/><text x="5089" y="2931">2</text>
<path d="M5030 2866L5223 2983"/><text x="5144" y="2931">1</text>
<path d="M5127 2866L5319 2983"/><text x="5240" y="2931">1</text>
<path d="M5319 2866L5414 2983"/><text x="5377" y="2931">1</text>
<path d="M5607 2866L5607 2983"/><text x="5611" y="2931">1</text>
<path d="M5030 2983L5030 3101"/><text x="5034" y="3048">1</text>
<path d="M5127 2983L5127 3101"/><text x="5131" y="3048">1</text>
<path d="M5223 2983L5223 3101"/><text x="5227" y="3048">1</text>
<path d="M5951 2162L6059 2279"/><text x="6017" y="2227">1</text>
<path d="M6059 2279L6127 2397"/><text x="6102" y="2344">1</text>
<path d="M6127 2397L5831 2514"/><text x="6007" y="2462">7</text>
<path d="M6127 2397L5974 2514"/><text x="6064" y="2462">6</text>
<path d="M6127 2397L6095 2514"/><text x="6115" y="2462">3</text>
<path d="M6127 2397L6191 2514"/><text x="6164" y="2462">5</text>
<path d="M6127 2397L6287 2514"/><text x="6222" y="2462">2</text>
<path d="M6127 2397L6383 2514"/><text x="6308" y="2462">4</text>
<path d="M6127 2397L6479 2514"/><text x="6398" y="2462">1</text>
<path d="M5831 2514L5807 2631"/><text x="5825" y="2579">1</text>
<path d="M5974 2514L5903 2631"/><text x="5948" y="2579">1</text>
<path d="M6095 2514L5998 2631"/><text x="6057" y="2579">2</text>
<path class="g" d="M6095 2514L6095 2631"/><text x="6099" y="2579">1</text>
<path d="M6191 2514L6191 2631"/><text x="6195" y="2579">1</text>
<path d="M6287 2514L6287 2631"/><text x="6291" y="2579">1</text>
<path class="g" d="M6383 2514L6383 2631"/><text x="6387" y="2579">1</text>
<path d="M6479 2514L6479 2631"/><text x="6483" y="2579">1</text>
<path d="M5998 2631L5999 2749"/><text x="6002" y="2696">1</text>
<path class="g" d="M6095 2631L6095 2749"/><text x="6099" y="2696">1</text>
<path d="M6287 2631L6286 2749"/><text x="6291" y="2696">1</text>
<path d="M6479 2631L6967 2749"/><text x="6767" y="2696">1</text>
<path class="g" d="M6095 2749L6095 2866"/><text x="6099" y="2814">1</text>
<path d="M6286 2749L6204 2866"/><text x="6255" y="2814">2</text>
<path d="M6286 2749L6300 2866"/><text x="6298" y="2814">1</text>
<path class="g" d="M6095 2866L6095 2983"/><text x="6099" y="2931">1</text>
<path d="M6204 2866L6204 2983"/><text x="6208" y="2931">1</text>
<path d="M6300 2866L6300 2983"/><text x="6304" y="2931">1</text>
<path d="M6204 2983L6204 3101"/><text x="6208" y="3048">1</text>
<path d="M6300 2983L6300 3101"/><text x="6304" y="3048">1</text>
<path d="M6300 3101L6300 3218"/><text x="6304" y="3166">1</text>
<path d="M6967 2749L6967 2866"/><text x="6971" y="2814">1</text>
<path d="M6967 2749L7062 2866"/><text x="7025" y="2814">2</text>
<path d="M6967 2866L6870 2983"/><text x="6929" y="2931">1</text>
<path d="M6967 2866L6967 2983"/><text x="6971" y="2931">3</text>
<path d="M6967 2866L7062 2983"/><text x="7025" y="2931">2</text>
<path d="M6967 2866L7158 2983"/><text x="7080" y="2931">4</text>
<path d="M6870 2983L6774 3101"/><text x="6833" y="3048">1</text>
<path d="M6870 2983L6870 3101"/><text x="6874" y="3048">2</text>
<path d="M6870 2983L6967 3101"/><text x="6929" y="3048">3</text>
<path d="M6967 2983L7062 3101"/><text x="7025" y="3048">1</text>
<path d="M7062 2983L7158 3101"/><text x="7121" y="3048">1</text>
<path d="M6774 3101L6711 3218"/><text x="6751" y="3166">1</text>
<path d="M6774 3101L6824 3218"/><text x="6807" y="3166">3</text>
<path d="M6774 3101L6928 3218"/><text x="6866" y="3166">2</text>
<path d="M6870 3101L7025 3218"/><text x="6962" y="3166">1</text>
<path d="M6967 3101L7120 3218"/><text x="7058" y="3166">1</text>
<path d="M6711 3218L6582 3335"/><text x="6660" y="3283">2</text>
<path d="M6711 3218L6679 3335"/><text x="6701" y="3283">1</text>
<path d="M6711 3218L6774 3335"/><text x="6751" y="3283">3</text>
<path d="M6824 3218L6870 3335"/><text x="6854" y="3283">1</text>
<path d="M6928 3218L6967 3335"/><text x="6954" y="3283">1</text>
<path d="M6928 3218L7062 3335"/><text x="7008" y="3283">2</text>
<path d="M7025 3218L7158 3335"/><text x="7105" y="3283">1</text>
<path d="M6582 3335L6582 3453"/><text x="6586" y="3400">1</text>
<path d="M6679 3335L6679 3453"/><text x="6683" y="3400">2</text>
<path d="M6679 3335L6774 3453"/><text x="6737" y="3400">1</text>
<path d="M6967 3335L6967 3453"/><text x="6971" y="3400">1</text>
<path d="M7062 3335L7062 3453"/><text x="7066" y="3400">1</text>
<path d="M6774 3453L6774 3570"/><text x="6778" y="3518">1</text>
</g>
<g id="nodes">
<g id="n0" class="n"><ellipse cx="750" cy="50" rx="36" ry="24"/><text x="750" y="56">0</text></g>
<g id="n240" class="n l"><ellipse cx="366" cy="167" rx="36" ry="24"/><text x="366" y="173">240</text></g>
<g id="n244" class="n"><ellipse cx="462" cy="167" rx="36" ry="24"/><text x="462" y="173">244</text></g>
<g id="n245" class="n"><ellipse cx="559" cy="167" rx="36" ry="24"/><text x="559" y="173">245</text></g>
<g id="n246" class="n"><ellipse cx="655" cy="167" rx="36" ry="24"/><text x="655" y="173">246</text></g>
<g id="n248" class="n"><ellipse cx="750" cy="167" rx="36" ry="24"/><text x="750" y="173">248</text></g>
<g id="n249" class="n"><ellipse cx="846" cy="167" rx="36" ry="24"/><text x="846" y="173">249</text></g>
<g id="n251" class="n"><ellipse cx="1018" cy="167" rx="36" ry="24"/><text x="1018" y="173">251</text></g>
<g id="n252" class="n"><ellipse cx="1135" cy="167" rx="36" ry="24"/><text x="1135" y="173">252</text></g>
<g id="n253" class="n"><ellipse cx="1250" cy="167" rx="36" ry="24"/><text x="1250" y="173">253</text></g>
<g id="n4" class="n l"><ellipse cx="366" cy="284" rx="36" ry="24"/><text x="366" y="290">4</text></g>
<g id="n5" class="n l"><ellipse cx="462" cy="284" rx="36" ry="24"/><text x="462" y="290">5</text></g>
<g id="n250" class="n"><ellipse cx="559" cy="284" rx="36" ry="24"/><text x="559" y="290">250</text></g>
<g id="n6" class="n"><ellipse cx="655" cy="284" rx="36" ry="24"/><text x="655" y="290">6</text></g>
<g id="n8" class="n l"><ellipse cx="750" cy="284" rx="36" ry="24"/><text x="750" y="290">8</text></g>
<g id="n9" class="n l"><ellipse cx="846" cy="284" rx="36" ry="24"/><text x="846" y="290">9</text></g>
<g id="n2" class="n l"><ellipse cx="942" cy="284" rx="36" ry="24"/><text x="942" y="290">2</text></g>
<g id="n11" class="n l"><ellipse cx="1038" cy="284" rx="36" ry="24"/><text x="1038" y="290">11</text></g>
<g id="n12" class="n l"><ellipse cx="1134" cy="284" rx="36" ry="24"/><text x="1134" y="290">12</text></g>
<g id="n254" class="n"><ellipse cx="1231" cy="284" rx="36" ry="24"/><text x="1231" y="290">254</text></g>
<g id="n13" class="n l"><ellipse cx="1326" cy="284" rx="36" ry="24"/><text x="1326" y="290">13</text></g>
<g id="n27" class="n"><ellipse cx="1813" cy="284" rx="36" ry="24"/><text x="1813" y="290">27</text></g>
<g id="n10" class="n l"><ellipse cx="366" cy="402" rx="36" ry="24"/><text x="366" y="408">10</text></g>
<g id="n241" class="n"><ellipse cx="462" cy="402" rx="36" ry="24"/><text x="462" y="408">241</text></g>
<g id="n243" class="n"><ellipse cx="559" cy="402" rx="36" ry="24"/><text x="559" y="408">243</text></g>
<g id="n247" class="n"><ellipse cx="655" cy="402" rx="36" ry="24"/><text x="655" y="408">247</text></g>
<g id="n242" class="n l"><ellipse cx="750" cy="402" rx="36" ry="24"/><text x="750" y="408">242</text></g>
<g id="n14" class="n l"><ellipse cx="1231" cy="402" rx="36" ry="24"/><text x="1231" y="408">14</text></g>
<g id="n24" class="n"><ellipse cx="1532" cy="402" rx="36" ry="24"/><text x="1532" y="408">24</text></g>
<g id="n28" class="n"><ellipse cx="1706" cy="402" rx="36" ry="24"/><text x="1706" y="408">28</text></g>
<g id="n258" class="n"><ellipse cx="1813" cy="402" rx="36" ry="24"/><text x="1813" y="408">258</text></g>
<g id="n265" class="n"><ellipse cx="1910" cy="402" rx="36" ry="24"/><text x="1910" y="408">265</text></g>
<g id="n263" class="n"><ellipse cx="2007" cy="402" rx="36" ry="24"/><text x="2007" y="408">263</text></g>
<g id="n267" class="n l"><ellipse cx="2102" cy="402" rx="36" ry="24"/><text x="2102" y="408">267</text></g>
<g id="n1" class="n l"><ellipse cx="462" cy="519" rx="36" ry="24"/><text x="462" y="525">1</text></g>
<g id="n3" class="n l"><ellipse cx="559" cy="519" rx="36" ry="24"/><text x="559" y="525">3</text></g>
<g id="n7" class="n l"><ellipse cx="655" cy="519" rx="36" ry="24"/><text x="655" y="525">7</text></g>
<g id="n264" class="n l"><ellipse cx="1430" cy="519" rx="36" ry="24"/><text x="1430" y="525">264</text></g>
<g id="n19" class="n"><ellipse cx="1526" cy="519" rx="36" ry="24"/><text x="1526" y="525">19</text></g>
<g id="n29" class="n"><ellipse cx="1622" cy="519" rx="36" ry="24"/><text x="1622" y="525">29</text></g>
<g id="n268" class="n"><ellipse cx="1718" cy="519" rx="36" ry="24"/><text x="1718" y="525">268</text></g>
<g id="n18" class="n l"><ellipse cx="1814" cy="519" rx="36" ry="24"/><text x="1814" y="525">18</text></g>
<g id="n21" class="n"><ellipse cx="1910" cy="519" rx="36" ry="24"/><text x="1910" y="525">21</text></g>
<g id="n25" class="n"><ellipse cx="2007" cy="519" rx="36" ry="24"/><text x="2007" y="525">25</text></g>
<g id="n255" class="n"><ellipse cx="2102" cy="519" rx="36" ry="24"/><text x="2102" y="525">255</text></g>
<g id="n23" class="n"><ellipse cx="2198" cy="519" rx="36" ry="24"/><text x="2198" y="525">23</text></g>
<g id="n259" class="n l"><ellipse cx="1526" cy="636" rx="36" ry="24"/><text x="1526" y="642">259</text></g>
<g id="n269" class="n l"><ellipse cx="1622" cy="636" rx="36" ry="24"/><text x="1622" y="642">269</text></g>
<g id="n17" class="n"><ellipse cx="1718" cy="636" rx="36" ry="24"/><text x="1718" y="642">17</text></g>
<g id="n261" class="n l"><ellipse cx="1814" cy="636" rx="36" ry="24"/><text x="1814" y="642">261</text></g>
<g id="n22" class="n"><ellipse cx="1910" cy="636" rx="36" ry="24"/><text x="1910" y="642">22</text></g>
<g id="n16" class="n"><ellipse cx="2007" cy="636" rx="36" ry="24"/><text x="2007" y="642">16</text></g>
<g id="n20" class="n"><ellipse cx="2102" cy="636" rx="36" ry="24"/><text x="2102" y="642">20</text></g>
<g id="n15" class="n l"><ellipse cx="2198" cy="636" rx="36" ry="24"/><text x="2198" y="642">15</text></g>
<g id="n171" class="n"><ellipse cx="2303" cy="636" rx="36" ry="24"/><text x="2303" y="642">171</text></g>
<g id="n257" class="n l"><ellipse cx="1718" cy="754" rx="36" ry="24"/><text x="1718" y="760">257</text></g>
<g id="n262" class="n l"><ellipse cx="1910" cy="754" rx="36" ry="24"/><text x="1910" y="760">262</text></g>
<g id="n256" class="n l"><ellipse cx="2007" cy="754" rx="36" ry="24"/><text x="2007" y="760">256</text></g>
<g id="n260" class="n l"><ellipse cx="2102" cy="754" rx="36" ry="24"/><text x="2102" y="760">260</text></g>
<g id="n26" class="n"><ellipse cx="2198" cy="754" rx="36" ry="24"/><text x="2198" y="760">26</text></g>
<g id="n409" class="n"><ellipse cx="2303" cy="754" rx="36" ry="24"/><text x="2303" y="760">409</text></g>
<g id="n411" class="n"><ellipse cx="2398" cy="754" rx="36" ry="24"/><text x="2398" y="760">411</text></g>
<g id="n266" class="n l"><ellipse cx="2198" cy="871" rx="36" ry="24"/><text x="2198" y="877">266</text></g>
<g id="n169" class="n l"><ellipse cx="2303" cy="871" rx="36" ry="24"/><text x="2303" y="877">169</text></g>
<g id="n176" class="n"><ellipse cx="2398" cy="871" rx="36" ry="24"/><text x="2398" y="877">176</text></g>
<g id="n175" class="n"><ellipse cx="2627" cy="871" rx="36" ry="24"/><text x="2627" y="877">175</text></g>
<g id="n416" class="n"><ellipse cx="2315" cy="988" rx="36" ry="24"/><text x="2315" y="994">416</text></g>
<g id="n174" class="n"><ellipse cx="2458" cy="988" rx="36" ry="24"/><text x="2458" y="994">174</text></g>
<g id="n406" class="n"><ellipse cx="2578" cy="988" rx="36" ry="24"/><text x="2578" y="994">406</text></g>
<g id="n415" class="n"><ellipse cx="2685" cy="988" rx="36" ry="24"/><text x="2685" y="994">415</text></g>
<g id="n168" class="n"><ellipse cx="2912" cy="988" rx="36" ry="24"/><text x="2912" y="994">168</text></g>
<g id="n410" class="n"><ellipse cx="3070" cy="988" rx="36" ry="24"/><text x="3070" y="994">410</text></g>
<g id="n172" class="n"><ellipse cx="2303" cy="1106" rx="36" ry="24"/><text x="2303" y="1112">172</text></g>
<g id="n414" class="n l"><ellipse cx="2398" cy="1106" rx="36" ry="24"/><text x="2398" y="1112">414</text></g>
<g id="n166" class="n l"><ellipse cx="2494" cy="1106" rx="36" ry="24"/><text x="2494" y="1112">166</text></g>
<g id="n178" class="n"><ellipse cx="2590" cy="1106" rx="36" ry="24"/><text x="2590" y="1112">178</text></g>
<g id="n177" class="n"><ellipse cx="2685" cy="1106" rx="36" ry="24"/><text x="2685" y="1112">177</text></g>
<g id="n413" class="n"><ellipse cx="2781" cy="1106" rx="36" ry="24"/><text x="2781" y="1112">413</text></g>
<g id="n165" class="n"><ellipse cx="2878" cy="1106" rx="36" ry="24"/><text x="2878" y="1112">165</text></g>
<g id="n408" class="n l"><ellipse cx="2974" cy="1106" rx="36" ry="24"/><text x="2974" y="1112">408</text></g>
<g id="n170" class="n l"><ellipse cx="3070" cy="1106" rx="36" ry="24"/><text x="3070" y="1112">170</text></g>
<g id="n114" class="n"><ellipse cx="4542" cy="1106" rx="36" ry="24"/><text x="4542" y="1112">114</text></g>
<g id="n234" class="n"><ellipse cx="934" cy="1223" rx="36" ry="24"/><text x="934" y="1229">234</text></g>
<g id="n412" class="n"><ellipse cx="2303" cy="1223" rx="36" ry="24"/><text x="2303" y="1229">412</text></g>
<g id="n418" class="n l"><ellipse cx="2590" cy="1223" rx="36" ry="24"/><text x="2590" y="1229">418</text></g>
<g id="n417" class="n"><ellipse cx="2685" cy="1223" rx="36" ry="24"/><text x="2685" y="1229">417</text></g>
<g id="n173" class="n l"><ellipse cx="2781" cy="1223" rx="36" ry="24"/><text x="2781" y="1229">173</text></g>
<g id="n407" class="n"><ellipse cx="2878" cy="1223" rx="36" ry="24"/><text x="2878" y="1229">407</text></g>
<g id="n405" class="n"><ellipse cx="3021" cy="1223" rx="36" ry="24"/><text x="3021" y="1229">405</text></g>
<g id="n348" class="n"><ellipse cx="4542" cy="1223" rx="36" ry="24"/><text x="4542" y="1229">348</text></g>
<g id="n354" class="n"><ellipse cx="4638" cy="1223" rx="36" ry="24"/><text x="4638" y="1229">354</text></g>
<g id="n468" class="n"><ellipse cx="838" cy="1340" rx="36" ry="24"/><text x="838" y="1346">468</text></g>
<g id="n474" class="n l"><ellipse cx="934" cy="1340" rx="36" ry="24"/><text x="934" y="1346">474</text></g>
<g id="n189" class="n"><ellipse cx="2198" cy="1340" rx="36" ry="24"/><text x="2198" y="1346">189</text></g>
<g id="n179" class="n"><ellipse cx="2685" cy="1340" rx="36" ry="24"/><text x="2685" y="1346">179</text></g>
<g id="n167" class="n l"><ellipse cx="2878" cy="1340" rx="36" ry="24"/><text x="2878" y="1346">167</text></g>
<g id="n161" class="n"><ellipse cx="3270" cy="1340" rx="36" ry="24"/><text x="3270" y="1346">161</text></g>
<g id="n108" class="n"><ellipse cx="4542" cy="1340" rx="36" ry="24"/><text x="4542" y="1346">108</text></g>
<g id="n349" class="n"><ellipse cx="4638" cy="1340" rx="36" ry="24"/><text x="4638" y="1346">349</text></g>
<g id="n228" class="n"><ellipse cx="838" cy="1458" rx="36" ry="24"/><text x="838" y="1464">228</text></g>
<g id="n182" class="n"><ellipse cx="2102" cy="1458" rx="36" ry="24"/><text x="2102" y="1464">182</text></g>
<g id="n429" class="n"><ellipse cx="2198" cy="1458" rx="36" ry="24"/><text x="2198" y="1464">429</text></g>
<g id="n419" class="n l"><ellipse cx="2685" cy="1458" rx="36" ry="24"/><text x="2685" y="1464">419</text></g>
<g id="n154" class="n"><ellipse cx="3175" cy="1458" rx="36" ry="24"/><text x="3175" y="1464">154</text></g>
<g id="n159" class="n"><ellipse cx="3271" cy="1458" rx="36" ry="24"/><text x="3271" y="1464">159</text></g>
<g id="n401" class="n"><ellipse cx="3366" cy="1458" rx="36" ry="24"/><text x="3366" y="1464">401</text></g>
<g id="n402" class="n"><ellipse cx="3508" cy="1458" rx="36" ry="24"/><text x="3508" y="1464">402</text></g>
<g id="n113" class="n"><ellipse cx="4542" cy="1458" rx="36" ry="24"/><text x="4542" y="1464">113</text></g>
<g id="n109" class="n l"><ellipse cx="4638" cy="1458" rx="36" ry="24"/><text x="4638" y="1464">109</text></g>
<g id="n473" class="n"><ellipse cx="838" cy="1575" rx="36" ry="24"/><text x="838" y="1581">473</text></g>
<g id="n422" class="n"><ellipse cx="2102" cy="1575" rx="36" ry="24"/><text x="2102" y="1581">422</text></g>
<g id="n184" class="n"><ellipse cx="2198" cy="1575" rx="36" ry="24"/><text x="2198" y="1581">184</text></g>
<g id="n394" class="n l"><ellipse cx="3175" cy="1575" rx="36" ry="24"/><text x="3175" y="1581">394</text></g>
<g id="n399" class="n l"><ellipse cx="3271" cy="1575" rx="36" ry="24"/><text x="3271" y="1581">399</text></g>
<g id="n150" class="n"><ellipse cx="3366" cy="1575" rx="36" ry="24"/><text x="3366" y="1581">150</text></g>
<g id="n162" class="n l"><ellipse cx="3462" cy="1575" rx="36" ry="24"/><text x="3462" y="1581">162</text></g>
<g id="n393" class="n"><ellipse cx="3558" cy="1575" rx="36" ry="24"/><text x="3558" y="1581">393</text></g>
<g id="n404" class="n"><ellipse cx="3654" cy="1575" rx="36" ry="24"/><text x="3654" y="1581">404</text></g>
<g id="n353" class="n l"><ellipse cx="4542" cy="1575" rx="36" ry="24"/><text x="4542" y="1581">353</text></g>
<g id="n359" class="n"><ellipse cx="4638" cy="1575" rx="36" ry="24"/><text x="4638" y="1581">359</text></g>
<g id="n229" class="n"><ellipse cx="742" cy="1692" rx="36" ry="24"/><text x="742" y="1698">229</text></g>
<g id="n233" class="n l"><ellipse cx="838" cy="1692" rx="36" ry="24"/><text x="838" y="1698">233</text></g>
<g id="n238" class="n"><ellipse cx="934" cy="1692" rx="36" ry="24"/><text x="934" y="1698">238</text></g>
<g id="n194" class="n"><ellipse cx="2102" cy="1692" rx="36" ry="24"/><text x="2102" y="1698">194</text></g>
<g id="n424" class="n l"><ellipse cx="2198" cy="1692" rx="36" ry="24"/><text x="2198" y="1698">424</text></g>
<g id="n395" class="n"><ellipse cx="3271" cy="1692" rx="36" ry="24"/><text x="3271" y="1698">395</text></g>
<g id="n397" class="n"><ellipse cx="3366" cy="1692" rx="36" ry="24"/><text x="3366" y="1698">397</text></g>
<g id="n390" class="n"><ellipse cx="3462" cy="1692" rx="36" ry="24"/><text x="3462" y="1698">390</text></g>
<g id="n153" class="n l"><ellipse cx="3558" cy="1692" rx="36" ry="24"/><text x="3558" y="1698">153</text></g>
<g id="n164" class="n l"><ellipse cx="3654" cy="1692" rx="36" ry="24"/><text x="3654" y="1698">164</text></g>
<g id="n119" class="n l"><ellipse cx="4542" cy="1692" rx="36" ry="24"/><text x="4542" y="1698">119</text></g>
<g id="n358" class="n"><ellipse cx="4638" cy="1692" rx="36" ry="24"/><text x="4638" y="1698">358</text></g>
<g id="n469" class="n l"><ellipse cx="742" cy="1810" rx="36" ry="24"/><text x="742" y="1816">469</text></g>
<g id="n235" class="n"><ellipse cx="838" cy="1810" rx="36" ry="24"/><text x="838" y="1816">235</text></g>
<g id="n478" class="n"><ellipse cx="934" cy="1810" rx="36" ry="24"/><text x="934" y="1816">478</text></g>
<g id="n433" class="n"><ellipse cx="2007" cy="1810" rx="36" ry="24"/><text x="2007" y="1816">433</text></g>
<g id="n434" class="n l"><ellipse cx="2102" cy="1810" rx="36" ry="24"/><text x="2102" y="1816">434</text></g>
<g id="n403" class="n"><ellipse cx="3175" cy="1810" rx="36" ry="24"/><text x="3175" y="1816">403</text></g>
<g id="n155" class="n l"><ellipse cx="3271" cy="1810" rx="36" ry="24"/><text x="3271" y="1816">155</text></g>
<g id="n400" class="n"><ellipse cx="3366" cy="1810" rx="36" ry="24"/><text x="3366" y="1816">400</text></g>
<g id="n157" class="n l"><ellipse cx="3462" cy="1810" rx="36" ry="24"/><text x="3462" y="1816">157</text></g>
<g id="n156" class="n"><ellipse cx="3558" cy="1810" rx="36" ry="24"/><text x="3558" y="1816">156</text></g>
<g id="n117" class="n"><ellipse cx="4542" cy="1810" rx="36" ry="24"/><text x="4542" y="1816">117</text></g>
<g id="n118" class="n"><ellipse cx="4638" cy="1810" rx="36" ry="24"/><text x="4638" y="1816">118</text></g>
<g id="n472" class="n"><ellipse cx="502" cy="1927" rx="36" ry="24"/><text x="502" y="1933">472</text></g>
<g id="n225" class="n"><ellipse cx="694" cy="1927" rx="36" ry="24"/><text x="694" y="1933">225</text></g>
<g id="n475" class="n"><ellipse cx="838" cy="1927" rx="36" ry="24"/><text x="838" y="1933">475</text></g>
<g id="n239" class="n"><ellipse cx="934" cy="1927" rx="36" ry="24"/><text x="934" y="1933">239</text></g>
<g id="n193" class="n"><ellipse cx="2007" cy="1927" rx="36" ry="24"/><text x="2007" y="1933">193</text></g>
<g id="n163" class="n l"><ellipse cx="3175" cy="1927" rx="36" ry="24"/><text x="3175" y="1933">163</text></g>
<g id="n160" class="n"><ellipse cx="3318" cy="1927" rx="36" ry="24"/><text x="3318" y="1933">160</text></g>
<g id="n158" class="n"><ellipse cx="3414" cy="1927" rx="36" ry="24"/><text x="3414" y="1933">158</text></g>
<g id="n396" class="n l"><ellipse cx="3558" cy="1927" rx="36" ry="24"/><text x="3558" y="1933">396</text></g>
<g id="n357" class="n"><ellipse cx="4542" cy="1927" rx="36" ry="24"/><text x="4542" y="1933">357</text></g>
<g id="n107" class="n"><ellipse cx="4638" cy="1927" rx="36" ry="24"/><text x="4638" y="1933">107</text></g>
<g id="n356" class="n"><ellipse cx="4735" cy="1927" rx="36" ry="24"/><text x="4735" y="1933">356</text></g>
<g id="n232" class="n l"><ellipse cx="455" cy="2045" rx="36" ry="24"/><text x="455" y="2051">232</text></g>
<g id="n471" class="n"><ellipse cx="551" cy="2045" rx="36" ry="24"/><text x="551" y="2051">471</text></g>
<g id="n230" class="n"><ellipse cx="646" cy="2045" rx="36" ry="24"/><text x="646" y="2051">230</text></g>
<g id="n465" class="n l"><ellipse cx="742" cy="2045" rx="36" ry="24"/><text x="742" y="2051">465</text></g>
<g id="n466" class="n"><ellipse cx="838" cy="2045" rx="36" ry="24"/><text x="838" y="2051">466</text></g>
<g id="n479" class="n"><ellipse cx="934" cy="2045" rx="36" ry="24"/><text x="934" y="2051">479</text></g>
<g id="n432" class="n"><ellipse cx="2007" cy="2045" rx="36" ry="24"/><text x="2007" y="2051">432</text></g>
<g id="n152" class="n"><ellipse cx="3222" cy="2045" rx="36" ry="24"/><text x="3222" y="2051">152</text></g>
<g id="n151" class="n"><ellipse cx="3318" cy="2045" rx="36" ry="24"/><text x="3318" y="2051">151</text></g>
<g id="n398" class="n l"><ellipse cx="3414" cy="2045" rx="36" ry="24"/><text x="3414" y="2051">398</text></g>
<g id="n89" class="n"><ellipse cx="4342" cy="2045" rx="36" ry="24"/><text x="4342" y="2051">89</text></g>
<g id="n347" class="n l"><ellipse cx="4638" cy="2045" rx="36" ry="24"/><text x="4638" y="2051">347</text></g>
<g id="n115" class="n"><ellipse cx="4735" cy="2045" rx="36" ry="24"/><text x="4735" y="2051">115</text></g>
<g id="n116" class="n"><ellipse cx="4831" cy="2045" rx="36" ry="24"/><text x="4831" y="2051">116</text></g>
<g id="n231" class="n l"><ellipse cx="509" cy="2162" rx="36" ry="24"/><text x="509" y="2168">231</text></g>
<g id="n476" class="n"><ellipse cx="605" cy="2162" rx="36" ry="24"/><text x="605" y="2168">476</text></g>
<g id="n470" class="n l"><ellipse cx="701" cy="2162" rx="36" ry="24"/><text x="701" y="2168">470</text></g>
<g id="n226" class="n l"><ellipse cx="838" cy="2162" rx="36" ry="24"/><text x="838" y="2168">226</text></g>
<g id="n237" class="n"><ellipse cx="934" cy="2162" rx="36" ry="24"/><text x="934" y="2168">237</text></g>
<g id="n192" class="n"><ellipse cx="1910" cy="2162" rx="36" ry="24"/><text x="1910" y="2168">192</text></g>
<g id="n430" class="n"><ellipse cx="2007" cy="2162" rx="36" ry="24"/><text x="2007" y="2168">430</text></g>
<g id="n392" class="n l"><ellipse cx="3222" cy="2162" rx="36" ry="24"/><text x="3222" y="2168">392</text></g>
<g id="n391" class="n l"><ellipse cx="3318" cy="2162" rx="36" ry="24"/><text x="3318" y="2168">391</text></g>
<g id="n77" class="n"><ellipse cx="4054" cy="2162" rx="36" ry="24"/><text x="4054" y="2168">77</text></g>
<g id="n82" class="n"><ellipse cx="4246" cy="2162" rx="36" ry="24"/><text x="4246" y="2168">82</text></g>
<g id="n319" class="n"><ellipse cx="4342" cy="2162" rx="36" ry="24"/><text x="4342" y="2168">319</text></g>
<g id="n329" class="n"><ellipse cx="4438" cy="2162" rx="36" ry="24"/><text x="4438" y="2168">329</text></g>
<g id="n105" class="n"><ellipse cx="4542" cy="2162" rx="36" ry="24"/><text x="4542" y="2168">105</text></g>
<g id="n110" class="n"><ellipse cx="4638" cy="2162" rx="36" ry="24"/><text x="4638" y="2168">110</text></g>
<g id="n352" class="n"><ellipse cx="4735" cy="2162" rx="36" ry="24"/><text x="4735" y="2168">352</text></g>
<g id="n355" class="n"><ellipse cx="4831" cy="2162" rx="36" ry="24"/><text x="4831" y="2168">355</text></g>
<g id="n149" class="n"><ellipse cx="5951" cy="2162" rx="36" ry="24"/><text x="5951" y="2168">149</text></g>
<g id="n236" class="n"><ellipse cx="493" cy="2279" rx="36" ry="24"/><text x="493" y="2285">236</text></g>
<g id="n477" class="n"><ellipse cx="934" cy="2279" rx="36" ry="24"/><text x="934" y="2285">477</text></g>
<g id="n439" class="n"><ellipse cx="1613" cy="2279" rx="36" ry="24"/><text x="1613" y="2285">439</text></g>
<g id="n420" class="n"><ellipse cx="1814" cy="2279" rx="36" ry="24"/><text x="1814" y="2285">420</text></g>
<g id="n427" class="n"><ellipse cx="1910" cy="2279" rx="36" ry="24"/><text x="1910" y="2285">427</text></g>
<g id="n188" class="n"><ellipse cx="2007" cy="2279" rx="36" ry="24"/><text x="2007" y="2285">188</text></g>
<g id="n190" class="n l"><ellipse cx="2102" cy="2279" rx="36" ry="24"/><text x="2102" y="2285">190</text></g>
<g id="n183" class="n"><ellipse cx="2198" cy="2279" rx="36" ry="24"/><text x="2198" y="2285">183</text></g>
<g id="n317" class="n l"><ellipse cx="3958" cy="2279" rx="36" ry="24"/><text x="3958" y="2285">317</text></g>
<g id="n324" class="n"><ellipse cx="4054" cy="2279" rx="36" ry="24"/><text x="4054" y="2285">324</text></g>
<g id="n322" class="n l"><ellipse cx="4151" cy="2279" rx="36" ry="24"/><text x="4151" y="2285">322</text></g>
<g id="n327" class="n"><ellipse cx="4246" cy="2279" rx="36" ry="24"/><text x="4246" y="2285">327</text></g>
<g id="n79" class="n l"><ellipse cx="4342" cy="2279" rx="36" ry="24"/><text x="4342" y="2285">79</text></g>
<g id="n323" class="n"><ellipse cx="4438" cy="2279" rx="36" ry="24"/><text x="4438" y="2285">323</text></g>
<g id="n345" class="n"><ellipse cx="4542" cy="2279" rx="36" ry="24"/><text x="4542" y="2285">345</text></g>
<g id="n350" class="n l"><ellipse cx="4638" cy="2279" rx="36" ry="24"/><text x="4638" y="2285">350</text></g>
<g id="n112" class="n l"><ellipse cx="4735" cy="2279" rx="36" ry="24"/><text x="4735" y="2285">112</text></g>
<g id="n106" class="n"><ellipse cx="4831" cy="2279" rx="36" ry="24"/><text x="4831" y="2285">106</text></g>
<g id="n389" class="n"><ellipse cx="6059" cy="2279" rx="36" ry="24"/><text x="6059" y="2285">389</text></g>
<g id="n214" class="n"><ellipse cx="343" cy="2397" rx="36" ry="24"/><text x="343" y="2403">214</text></g>
<g id="n467" class="n"><ellipse cx="934" cy="2397" rx="36" ry="24"/><text x="934" y="2403">467</text></g>
<g id="n199" class="n"><ellipse cx="1397" cy="2397" rx="36" ry="24"/><text x="1397" y="2403">199</text></g>
<g id="n431" class="n"><ellipse cx="1719" cy="2397" rx="36" ry="24"/><text x="1719" y="2403">431</text></g>
<g id="n180" class="n"><ellipse cx="1814" cy="2397" rx="36" ry="24"/><text x="1814" y="2403">180</text></g>
<g id="n421" class="n"><ellipse cx="1910" cy="2397" rx="36" ry="24"/><text x="1910" y="2403">421</text></g>
<g id="n187" class="n l"><ellipse cx="2007" cy="2397" rx="36" ry="24"/><text x="2007" y="2403">187</text></g>
<g id="n428" class="n l"><ellipse cx="2102" cy="2397" rx="36" ry="24"/><text x="2102" y="2403">428</text></g>
<g id="n423" class="n l"><ellipse cx="2198" cy="2397" rx="36" ry="24"/><text x="2198" y="2403">423</text></g>
<g id="n84" class="n l"><ellipse cx="3958" cy="2397" rx="36" ry="24"/><text x="3958" y="2403">84</text></g>
<g id="n87" class="n"><ellipse cx="4054" cy="2397" rx="36" ry="24"/><text x="4054" y="2403">87</text></g>
<g id="n325" class="n"><ellipse cx="4246" cy="2397" rx="36" ry="24"/><text x="4246" y="2403">325</text></g>
<g id="n83" class="n l"><ellipse cx="4438" cy="2397" rx="36" ry="24"/><text x="4438" y="2403">83</text></g>
<g id="n111" class="n"><ellipse cx="4542" cy="2397" rx="36" ry="24"/><text x="4542" y="2403">111</text></g>
<g id="n346" class="n l"><ellipse cx="4831" cy="2397" rx="36" ry="24"/><text x="4831" y="2403">346</text></g>
<g id="n97" class="n"><ellipse cx="4934" cy="2397" rx="36" ry="24"/><text x="4934" y="2403">97</text></g>
<g id="n387" class="n"><ellipse cx="6127" cy="2397" rx="36" ry="24"/><text x="6127" y="2403">387</text></g>
<g id="n454" class="n l"><ellipse cx="247" cy="2514" rx="36" ry="24"/><text x="247" y="2520">454</text></g>
<g id="n459" class="n"><ellipse cx="343" cy="2514" rx="36" ry="24"/><text x="343" y="2520">459</text></g>
<g id="n227" class="n l"><ellipse cx="934" cy="2514" rx="36" ry="24"/><text x="934" y="2520">227</text></g>
<g id="n204" class="n"><ellipse cx="1344" cy="2514" rx="36" ry="24"/><text x="1344" y="2520">204</text></g>
<g id="n191" class="n l"><ellipse cx="1719" cy="2514" rx="36" ry="24"/><text x="1719" y="2520">191</text></g>
<g id="n185" class="n"><ellipse cx="1814" cy="2514" rx="36" ry="24"/><text x="1814" y="2520">185</text></g>
<g id="n181" class="n l"><ellipse cx="1910" cy="2514" rx="36" ry="24"/><text x="1910" y="2520">181</text></g>
<g id="n186" class="n"><ellipse cx="2007" cy="2514" rx="36" ry="24"/><text x="2007" y="2520">186</text></g>
<g id="n74" class="n"><ellipse cx="2719" cy="2514" rx="36" ry="24"/><text x="2719" y="2520">74</text></g>
<g id="n33" class="n"><ellipse cx="3849" cy="2514" rx="36" ry="24"/><text x="3849" y="2520">33</text></g>
<g id="n78" class="n"><ellipse cx="3958" cy="2514" rx="36" ry="24"/><text x="3958" y="2520">78</text></g>
<g id="n328" class="n"><ellipse cx="4055" cy="2514" rx="36" ry="24"/><text x="4055" y="2520">328</text></g>
<g id="n315" class="n"><ellipse cx="4151" cy="2514" rx="36" ry="24"/><text x="4151" y="2520">315</text></g>
<g id="n326" class="n"><ellipse cx="4246" cy="2514" rx="36" ry="24"/><text x="4246" y="2520">326</text></g>
<g id="n85" class="n"><ellipse cx="4342" cy="2514" rx="36" ry="24"/><text x="4342" y="2520">85</text></g>
<g id="n351" class="n l"><ellipse cx="4542" cy="2514" rx="36" ry="24"/><text x="4542" y="2520">351</text></g>
<g id="n104" class="n"><ellipse cx="4934" cy="2514" rx="36" ry="24"/><text x="4934" y="2520">104</text></g>
<g id="n337" class="n"><ellipse cx="5175" cy="2514" rx="36" ry="24"/><text x="5175" y="2520">337</text></g>
<g id="n137" class="n"><ellipse cx="5831" cy="2514" rx="36" ry="24"/><text x="5831" y="2520">137</text></g>
<g id="n139" class="n"><ellipse cx="5974" cy="2514" rx="36" ry="24"/><text x="5974" y="2520">139</text></g>
<g id="n147" class="n"><ellipse cx="6095" cy="2514" rx="36" ry="24"/><text x="6095" y="2520">147</text></g>
<g id="n378" class="n"><ellipse cx="6191" cy="2514" rx="36" ry="24"/><text x="6191" y="2520">378</text></g>
<g id="n380" class="n"><ellipse cx="6287" cy="2514" rx="36" ry="24"/><text x="6287" y="2520">380</text></g>
<g id="n384" class="n"><ellipse cx="6383" cy="2514" rx="36" ry="24"/><text x="6383" y="2520">384</text></g>
<g id="n386" class="n"><ellipse cx="6479" cy="2514" rx="36" ry="24"/><text x="6479" y="2520">386</text></g>
<g id="n219" class="n"><ellipse cx="290" cy="2631" rx="36" ry="24"/><text x="290" y="2637">219</text></g>
<g id="n444" class="n l"><ellipse cx="1248" cy="2631" rx="36" ry="24"/><text x="1248" y="2637">444</text></g>
<g id="n449" class="n"><ellipse cx="1344" cy="2631" rx="36" ry="24"/><text x="1344" y="2637">449</text></g>
<g id="n425" class="n l"><ellipse cx="1814" cy="2631" rx="36" ry="24"/><text x="1814" y="2637">425</text></g>
<g id="n426" class="n l"><ellipse cx="2007" cy="2631" rx="36" ry="24"/><text x="2007" y="2637">426</text></g>
<g id="n73" class="n"><ellipse cx="2590" cy="2631" rx="36" ry="24"/><text x="2590" y="2637">73</text></g>
<g id="n303" class="n"><ellipse cx="2687" cy="2631" rx="36" ry="24"/><text x="2687" y="2637">303</text></g>
<g id="n314" class="n l"><ellipse cx="2782" cy="2631" rx="36" ry="24"/><text x="2782" y="2637">314</text></g>
<g id="n273" class="n"><ellipse cx="3632" cy="2631" rx="36" ry="24"/><text x="3632" y="2637">273</text></g>
<g id="n318" class="n l"><ellipse cx="3958" cy="2631" rx="36" ry="24"/><text x="3958" y="2637">318</text></g>
<g id="n88" class="n l"><ellipse cx="4054" cy="2631" rx="36" ry="24"/><text x="4054" y="2637">88</text></g>
<g id="n75" class="n"><ellipse cx="4151" cy="2631" rx="36" ry="24"/><text x="4151" y="2637">75</text></g>
<g id="n86" class="n l"><ellipse cx="4246" cy="2631" rx="36" ry="24"/><text x="4246" y="2637">86</text></g>
<g id="n80" class="n"><ellipse cx="4342" cy="2631" rx="36" ry="24"/><text x="4342" y="2637">80</text></g>
<g id="n316" class="n"><ellipse cx="4438" cy="2631" rx="36" ry="24"/><text x="4438" y="2637">316</text></g>
<g id="n344" class="n"><ellipse cx="4934" cy="2631" rx="36" ry="24"/><text x="4934" y="2637">344</text></g>
<g id="n340" class="n"><ellipse cx="5351" cy="2631" rx="36" ry="24"/><text x="5351" y="2637">340</text></g>
<g id="n377" class="n l"><ellipse cx="5807" cy="2631" rx="36" ry="24"/><text x="5807" y="2637">377</text></g>
<g id="n379" class="n l"><ellipse cx="5903" cy="2631" rx="36" ry="24"/><text x="5903" y="2637">379</text></g>
<g id="n143" class="n"><ellipse cx="5998" cy="2631" rx="36" ry="24"/><text x="5998" y="2637">143</text></g>
<g id="n388" class="n"><ellipse cx="6095" cy="2631" rx="36" ry="24"/><text x="6095" y="2637">388</text></g>
<g id="n138" class="n l"><ellipse cx="6191" cy="2631" rx="36" ry="24"/><text x="6191" y="2637">138</text></g>
<g id="n140" class="n"><ellipse cx="6287" cy="2631" rx="36" ry="24"/><text x="6287" y="2637">140</text></g>
<g id="n144" class="n l"><ellipse cx="6383" cy="2631" rx="36" ry="24"/><text x="6383" y="2637">144</text></g>
<g id="n146" class="n"><ellipse cx="6479" cy="2631" rx="36" ry="24"/><text x="6479" y="2637">146</text></g>
<g id="n458" class="n"><ellipse cx="254" cy="2749" rx="36" ry="24"/><text x="254" y="2755">458</text></g>
<g id="n209" class="n"><ellipse cx="1334" cy="2749" rx="36" ry="24"/><text x="1334" y="2755">209</text></g>
<g id="n312" class="n"><ellipse cx="2494" cy="2749" rx="36" ry="24"/><text x="2494" y="2755">312</text></g>
<g id="n313" class="n"><ellipse cx="2591" cy="2749" rx="36" ry="24"/><text x="2591" y="2755">313</text></g>
<g id="n63" class="n l"><ellipse cx="2687" cy="2749" rx="36" ry="24"/><text x="2687" y="2755">63</text></g>
<g id="n279" class="n"><ellipse cx="3580" cy="2749" rx="36" ry="24"/><text x="3580" y="2755">279</text></g>
<g id="n81" class="n"><ellipse cx="4151" cy="2749" rx="36" ry="24"/><text x="4151" y="2755">81</text></g>
<g id="n320" class="n l"><ellipse cx="4342" cy="2749" rx="36" ry="24"/><text x="4342" y="2755">320</text></g>
<g id="n76" class="n l"><ellipse cx="4438" cy="2749" rx="36" ry="24"/><text x="4438" y="2755">76</text></g>
<g id="n94" class="n"><ellipse cx="4934" cy="2749" rx="36" ry="24"/><text x="4934" y="2755">94</text></g>
<g id="n100" class="n"><ellipse cx="5126" cy="2749" rx="36" ry="24"/><text x="5126" y="2755">100</text></g>
<g id="n103" class="n"><ellipse cx="5319" cy="2749" rx="36" ry="24"/><text x="5319" y="2755">103</text></g>
<g id="n339" class="n"><ellipse cx="5414" cy="2749" rx="36" ry="24"/><text x="5414" y="2755">339</text></g>
<g id="n93" class="n"><ellipse cx="5510" cy="2749" rx="36" ry="24"/><text x="5510" y="2755">93</text></g>
<g id="n95" class="n"><ellipse cx="5607" cy="2749" rx="36" ry="24"/><text x="5607" y="2755">95</text></g>
<g id="n383" class="n l"><ellipse cx="5999" cy="2749" rx="36" ry="24"/><text x="5999" y="2755">383</text></g>
<g id="n148" class="n"><ellipse cx="6095" cy="2749" rx="36" ry="24"/><text x="6095" y="2755">148</text></g>
<g id="n385" class="n"><ellipse cx="6286" cy="2749" rx="36" ry="24"/><text x="6286" y="2755">385</text></g>
<g id="n129" class="n"><ellipse cx="6967" cy="2749" rx="36" ry="24"/><text x="6967" y="2755">129</text></g>
<g id="n218" class="n l"><ellipse cx="158" cy="2866" rx="36" ry="24"/><text x="158" y="2872">218</text></g>
<g id="n224" class="n"><ellipse cx="254" cy="2866" rx="36" ry="24"/><text x="254" y="2872">224</text></g>
<g id="n207" class="n"><ellipse cx="1328" cy="2866" rx="36" ry="24"/><text x="1328" y="2872">207</text></g>
<g id="n72" class="n l"><ellipse cx="2302" cy="2866" rx="36" ry="24"/><text x="2302" y="2872">72</text></g>
<g id="n307" class="n"><ellipse cx="2398" cy="2866" rx="36" ry="24"/><text x="2398" y="2872">307</text></g>
<g id="n309" class="n"><ellipse cx="2494" cy="2866" rx="36" ry="24"/><text x="2494" y="2872">309</text></g>
<g id="n62" class="n"><ellipse cx="2590" cy="2866" rx="36" ry="24"/><text x="2590" y="2872">62</text></g>
<g id="n64" class="n"><ellipse cx="2734" cy="2866" rx="36" ry="24"/><text x="2734" y="2872">64</text></g>
<g id="n39" class="n l"><ellipse cx="3484" cy="2866" rx="36" ry="24"/><text x="3484" y="2872">39</text></g>
<g id="n44" class="n"><ellipse cx="3580" cy="2866" rx="36" ry="24"/><text x="3580" y="2872">44</text></g>
<g id="n321" class="n l"><ellipse cx="4151" cy="2866" rx="36" ry="24"/><text x="4151" y="2872">321</text></g>
<g id="n334" class="n l"><ellipse cx="4934" cy="2866" rx="36" ry="24"/><text x="4934" y="2872">334</text></g>
<g id="n330" class="n"><ellipse cx="5030" cy="2866" rx="36" ry="24"/><text x="5030" y="2872">330</text></g>
<g id="n102" class="n"><ellipse cx="5127" cy="2866" rx="36" ry="24"/><text x="5127" y="2872">102</text></g>
<g id="n343" class="n l"><ellipse cx="5223" cy="2866" rx="36" ry="24"/><text x="5223" y="2872">343</text></g>
<g id="n91" class="n"><ellipse cx="5319" cy="2866" rx="36" ry="24"/><text x="5319" y="2872">91</text></g>
<g id="n99" class="n l"><ellipse cx="5414" cy="2866" rx="36" ry="24"/><text x="5414" y="2872">99</text></g>
<g id="n333" class="n l"><ellipse cx="5510" cy="2866" rx="36" ry="24"/><text x="5510" y="2872">333</text></g>
<g id="n341" class="n"><ellipse cx="5607" cy="2866" rx="36" ry="24"/><text x="5607" y="2872">341</text></g>
<g id="n335" class="n l"><ellipse cx="5702" cy="2866" rx="36" ry="24"/><text x="5702" y="2872">335</text></g>
<g id="n382" class="n"><ellipse cx="6095" cy="2866" rx="36" ry="24"/><text x="6095" y="2872">382</text></g>
<g id="n145" class="n"><ellipse cx="6204" cy="2866" rx="36" ry="24"/><text x="6204" y="2872">145</text></g>
<g id="n375" class="n"><ellipse cx="6300" cy="2866" rx="36" ry="24"/><text x="6300" y="2872">375</text></g>
<g id="n134" class="n"><ellipse cx="6967" cy="2866" rx="36" ry="24"/><text x="6967" y="2872">134</text></g>
<g id="n369" class="n l"><ellipse cx="7062" cy="2866" rx="36" ry="24"/><text x="7062" y="2872">369</text></g>
<g id="n212" class="n"><ellipse cx="62" cy="2983" rx="36" ry="24"/><text x="62" y="2989">212</text></g>
<g id="n222" class="n"><ellipse cx="158" cy="2983" rx="36" ry="24"/><text x="158" y="2989">222</text></g>
<g id="n223" class="n"><ellipse cx="254" cy="2983" rx="36" ry="24"/><text x="254" y="2989">223</text></g>
<g id="n464" class="n l"><ellipse cx="350" cy="2983" rx="36" ry="24"/><text x="350" y="2989">464</text></g>
<g id="n198" class="n"><ellipse cx="1210" cy="2983" rx="36" ry="24"/><text x="1210" y="2989">198</text></g>
<g id="n445" class="n"><ellipse cx="1326" cy="2983" rx="36" ry="24"/><text x="1326" y="2989">445</text></g>
<g id="n447" class="n l"><ellipse cx="1422" cy="2983" rx="36" ry="24"/><text x="1422" y="2989">447</text></g>
<g id="n67" class="n l"><ellipse cx="2302" cy="2983" rx="36" ry="24"/><text x="2302" y="2989">67</text></g>
<g id="n61" class="n"><ellipse cx="2398" cy="2983" rx="36" ry="24"/><text x="2398" y="2989">61</text></g>
<g id="n69" class="n l"><ellipse cx="2494" cy="2983" rx="36" ry="24"/><text x="2494" y="2989">69</text></g>
<g id="n308" class="n"><ellipse cx="2591" cy="2983" rx="36" ry="24"/><text x="2591" y="2989">308</text></g>
<g id="n302" class="n l"><ellipse cx="2687" cy="2983" rx="36" ry="24"/><text x="2687" y="2989">302</text></g>
<g id="n304" class="n l"><ellipse cx="2782" cy="2983" rx="36" ry="24"/><text x="2782" y="2989">304</text></g>
<g id="n274" class="n"><ellipse cx="3484" cy="2983" rx="36" ry="24"/><text x="3484" y="2989">274</text></g>
<g id="n284" class="n"><ellipse cx="3580" cy="2983" rx="36" ry="24"/><text x="3580" y="2989">284</text></g>
<g id="n90" class="n l"><ellipse cx="4934" cy="2983" rx="36" ry="24"/><text x="4934" y="2989">90</text></g>
<g id="n332" class="n"><ellipse cx="5030" cy="2983" rx="36" ry="24"/><text x="5030" y="2989">332</text></g>
<g id="n336" class="n"><ellipse cx="5127" cy="2983" rx="36" ry="24"/><text x="5127" y="2989">336</text></g>
<g id="n338" class="n"><ellipse cx="5223" cy="2983" rx="36" ry="24"/><text x="5223" y="2989">338</text></g>
<g id="n342" class="n l"><ellipse cx="5319" cy="2983" rx="36" ry="24"/><text x="5319" y="2989">342</text></g>
<g id="n331" class="n l"><ellipse cx="5414" cy="2983" rx="36" ry="24"/><text x="5414" y="2989">331</text></g>
<g id="n101" class="n l"><ellipse cx="5607" cy="2983" rx="36" ry="24"/><text x="5607" y="2989">101</text></g>
<g id="n142" class="n l"><ellipse cx="6095" cy="2983" rx="36" ry="24"/><text x="6095" y="2989">142</text></g>
<g id="n381" class="n"><ellipse cx="6204" cy="2983" rx="36" ry="24"/><text x="6204" y="2989">381</text></g>
<g id="n135" class="n"><ellipse cx="6300" cy="2983" rx="36" ry="24"/><text x="6300" y="2989">135</text></g>
<g id="n132" class="n"><ellipse cx="6870" cy="2983" rx="36" ry="24"/><text x="6870" y="2989">132</text></g>
<g id="n362" class="n"><ellipse cx="6967" cy="2983" rx="36" ry="24"/><text x="6967" y="2989">362</text></g>
<g id="n364" class="n"><ellipse cx="7062" cy="2983" rx="36" ry="24"/><text x="7062" y="2989">364</text></g>
<g id="n374" class="n l"><ellipse cx="7158" cy="2983" rx="36" ry="24"/><text x="7158" y="2989">374</text></g>
<g id="n452" class="n l"><ellipse cx="62" cy="3101" rx="36" ry="24"/><text x="62" y="3107">452</text></g>
<g id="n462" class="n"><ellipse cx="158" cy="3101" rx="36" ry="24"/><text x="158" y="3107">462</text></g>
<g id="n213" class="n"><ellipse cx="254" cy="3101" rx="36" ry="24"/><text x="254" y="3107">213</text></g>
<g id="n463" class="n l"><ellipse cx="350" cy="3101" rx="36" ry="24"/><text x="350" y="3107">463</text></g>
<g id="n438" class="n l"><ellipse cx="1135" cy="3101" rx="36" ry="24"/><text x="1135" y="3107">438</text></g>
<g id="n435" class="n"><ellipse cx="1231" cy="3101" rx="36" ry="24"/><text x="1231" y="3107">435</text></g>
<g id="n443" class="n"><ellipse cx="1326" cy="3101" rx="36" ry="24"/><text x="1326" y="3107">443</text></g>
<g id="n196" class="n"><ellipse cx="1422" cy="3101" rx="36" ry="24"/><text x="1422" y="3107">196</text></g>
<g id="n205" class="n"><ellipse cx="1518" cy="3101" rx="36" ry="24"/><text x="1518" y="3107">205</text></g>
<g id="n301" class="n l"><ellipse cx="2302" cy="3101" rx="36" ry="24"/><text x="2302" y="3107">301</text></g>
<g id="n305" class="n"><ellipse cx="2398" cy="3101" rx="36" ry="24"/><text x="2398" y="3107">305</text></g>
<g id="n71" class="n"><ellipse cx="2494" cy="3101" rx="36" ry="24"/><text x="2494" y="3107">71</text></g>
<g id="n68" class="n l"><ellipse cx="2590" cy="3101" rx="36" ry="24"/><text x="2590" y="3107">68</text></g>
<g id="n34" class="n l"><ellipse cx="3484" cy="3101" rx="36" ry="24"/><text x="3484" y="3107">34</text></g>
<g id="n42" class="n"><ellipse cx="3579" cy="3101" rx="36" ry="24"/><text x="3579" y="3107">42</text></g>
<g id="n92" class="n l"><ellipse cx="5030" cy="3101" rx="36" ry="24"/><text x="5030" y="3107">92</text></g>
<g id="n96" class="n l"><ellipse cx="5127" cy="3101" rx="36" ry="24"/><text x="5127" y="3107">96</text></g>
<g id="n98" class="n l"><ellipse cx="5223" cy="3101" rx="36" ry="24"/><text x="5223" y="3107">98</text></g>
<g id="n141" class="n l"><ellipse cx="6204" cy="3101" rx="36" ry="24"/><text x="6204" y="3107">141</text></g>
<g id="n376" class="n"><ellipse cx="6300" cy="3101" rx="36" ry="24"/><text x="6300" y="3107">376</text></g>
<g id="n370" class="n"><ellipse cx="6774" cy="3101" rx="36" ry="24"/><text x="6774" y="3107">370</text></g>
<g id="n372" class="n"><ellipse cx="6870" cy="3101" rx="36" ry="24"/><text x="6870" y="3107">372</text></g>
<g id="n123" class="n"><ellipse cx="6967" cy="3101" rx="36" ry="24"/><text x="6967" y="3107">123</text></g>
<g id="n122" class="n l"><ellipse cx="7062" cy="3101" rx="36" ry="24"/><text x="7062" y="3107">122</text></g>
<g id="n124" class="n l"><ellipse cx="7158" cy="3101" rx="36" ry="24"/><text x="7158" y="3107">124</text></g>
<g id="n220" class="n"><ellipse cx="158" cy="3218" rx="36" ry="24"/><text x="158" y="3224">220</text></g>
<g id="n453" class="n l"><ellipse cx="254" cy="3218" rx="36" ry="24"/><text x="254" y="3224">453</text></g>
<g id="n441" class="n"><ellipse cx="1039" cy="3218" rx="36" ry="24"/><text x="1039" y="3224">441</text></g>
<g id="n195" class="n l"><ellipse cx="1135" cy="3218" rx="36" ry="24"/><text x="1135" y="3224">195</text></g>
<g id="n200" class="n"><ellipse cx="1231" cy="3218" rx="36" ry="24"/><text x="1231" y="3224">200</text></g>
<g id="n203" class="n l"><ellipse cx="1326" cy="3218" rx="36" ry="24"/><text x="1326" y="3224">203</text></g>
<g id="n436" class="n l"><ellipse cx="1422" cy="3218" rx="36" ry="24"/><text x="1422" y="3224">436</text></g>
<g id="n448" class="n"><ellipse cx="1518" cy="3218" rx="36" ry="24"/><text x="1518" y="3224">448</text></g>
<g id="n202" class="n"><ellipse cx="1614" cy="3218" rx="36" ry="24"/><text x="1614" y="3224">202</text></g>
<g id="n300" class="n"><ellipse cx="2302" cy="3218" rx="36" ry="24"/><text x="2302" y="3224">300</text></g>
<g id="n310" class="n"><ellipse cx="2398" cy="3218" rx="36" ry="24"/><text x="2398" y="3224">310</text></g>
<g id="n65" class="n l"><ellipse cx="2494" cy="3218" rx="36" ry="24"/><text x="2494" y="3224">65</text></g>
<g id="n311" class="n l"><ellipse cx="2590" cy="3218" rx="36" ry="24"/><text x="2590" y="3224">311</text></g>
<g id="n48" class="n"><ellipse cx="3310" cy="3218" rx="36" ry="24"/><text x="3310" y="3224">48</text></g>
<g id="n277" class="n"><ellipse cx="3566" cy="3218" rx="36" ry="24"/><text x="3566" y="3224">277</text></g>
<g id="n282" class="n"><ellipse cx="3662" cy="3218" rx="36" ry="24"/><text x="3662" y="3224">282</text></g>
<g id="n136" class="n l"><ellipse cx="6300" cy="3218" rx="36" ry="24"/><text x="6300" y="3224">136</text></g>
<g id="n365" class="n"><ellipse cx="6711" cy="3218" rx="36" ry="24"/><text x="6711" y="3224">365</text></g>
<g id="n121" class="n"><ellipse cx="6824" cy="3218" rx="36" ry="24"/><text x="6824" y="3224">121</text></g>
<g id="n130" class="n"><ellipse cx="6928" cy="3218" rx="36" ry="24"/><text x="6928" y="3224">130</text></g>
<g id="n133" class="n"><ellipse cx="7025" cy="3218" rx="36" ry="24"/><text x="7025" y="3224">133</text></g>
<g id="n363" class="n l"><ellipse cx="7120" cy="3218" rx="36" ry="24"/><text x="7120" y="3224">363</text></g>
<g id="n215" class="n"><ellipse cx="158" cy="3335" rx="36" ry="24"/><text x="158" y="3341">215</text></g>
<g id="n217" class="n"><ellipse cx="254" cy="3335" rx="36" ry="24"/><text x="254" y="3341">217</text></g>
<g id="n460" class="n"><ellipse cx="350" cy="3335" rx="36" ry="24"/><text x="350" y="3341">460</text></g>
<g id="n201" class="n l"><ellipse cx="1039" cy="3335" rx="36" ry="24"/><text x="1039" y="3341">201</text></g>
<g id="n437" class="n"><ellipse cx="1135" cy="3335" rx="36" ry="24"/><text x="1135" y="3341">437</text></g>
<g id="n440" class="n l"><ellipse cx="1231" cy="3335" rx="36" ry="24"/><text x="1231" y="3341">440</text></g>
<g id="n446" class="n"><ellipse cx="1326" cy="3335" rx="36" ry="24"/><text x="1326" y="3341">446</text></g>
<g id="n208" class="n l"><ellipse cx="1518" cy="3335" rx="36" ry="24"/><text x="1518" y="3341">208</text></g>
<g id="n442" class="n l"><ellipse cx="1614" cy="3335" rx="36" ry="24"/><text x="1614" y="3341">442</text></g>
<g id="n60" class="n l"><ellipse cx="2302" cy="3335" rx="36" ry="24"/><text x="2302" y="3341">60</text></g>
<g id="n66" class="n"><ellipse cx="2398" cy="3335" rx="36" ry="24"/><text x="2398" y="3341">66</text></g>
<g id="n70" class="n l"><ellipse cx="2494" cy="3335" rx="36" ry="24"/><text x="2494" y="3341">70</text></g>
<g id="n54" class="n"><ellipse cx="3070" cy="3335" rx="36" ry="24"/><text x="3070" y="3341">54</text></g>
<g id="n288" class="n l"><ellipse cx="3310" cy="3335" rx="36" ry="24"/><text x="3310" y="3341">288</text></g>
<g id="n31" class="n"><ellipse cx="3470" cy="3335" rx="36" ry="24"/><text x="3470" y="3341">31</text></g>
<g id="n37" class="n l"><ellipse cx="3566" cy="3335" rx="36" ry="24"/><text x="3566" y="3341">37</text></g>
<g id="n35" class="n"><ellipse cx="3662" cy="3335" rx="36" ry="24"/><text x="3662" y="3341">35</text></g>
<g id="n283" class="n"><ellipse cx="3758" cy="3335" rx="36" ry="24"/><text x="3758" y="3341">283</text></g>
<g id="n131" class="n"><ellipse cx="6582" cy="3335" rx="36" ry="24"/><text x="6582" y="3341">131</text></g>
<g id="n360" class="n"><ellipse cx="6679" cy="3335" rx="36" ry="24"/><text x="6679" y="3341">360</text></g>
<g id="n125" class="n l"><ellipse cx="6774" cy="3335" rx="36" ry="24"/><text x="6774" y="3341">125</text></g>
<g id="n361" class="n l"><ellipse cx="6870" cy="3335" rx="36" ry="24"/><text x="6870" y="3341">361</text></g>
<g id="n128" class="n"><ellipse cx="6967" cy="3335" rx="36" ry="24"/><text x="6967" y="3341">128</text></g>
<g id="n126" class="n"><ellipse cx="7062" cy="3335" rx="36" ry="24"/><text x="7062" y="3341">126</text></g>
<g id="n373" class="n l"><ellipse cx="7158" cy="3335" rx="36" ry="24"/><text x="7158" y="3341">373</text></g>
<g id="n221" class="n"><ellipse cx="62" cy="3453" rx="36" ry="24"/><text x="62" y="3459">221</text></g>
<g id="n455" class="n"><ellipse cx="158" cy="3453" rx="36" ry="24"/><text x="158" y="3459">455</text></g>
<g id="n457" class="n l"><ellipse cx="254" cy="3453" rx="36" ry="24"/><text x="254" y="3459">457</text></g>
<g id="n451" class="n"><ellipse cx="350" cy="3453" rx="36" ry="24"/><text x="350" y="3459">451</text></g>
<g id="n197" class="n l"><ellipse cx="1135" cy="3453" rx="36" ry="24"/><text x="1135" y="3459">197</text></g>
<g id="n206" class="n l"><ellipse cx="1326" cy="3453" rx="36" ry="24"/><text x="1326" y="3459">206</text></g>
<g id="n306" class="n l"><ellipse cx="2398" cy="3453" rx="36" ry="24"/><text x="2398" y="3459">306</text></g>
<g id="n294" class="n"><ellipse cx="2974" cy="3453" rx="36" ry="24"/><text x="2974" y="3459">294</text></g>
<g id="n299" class="n"><ellipse cx="3070" cy="3453" rx="36" ry="24"/><text x="3070" y="3459">299</text></g>
<g id="n271" class="n l"><ellipse cx="3470" cy="3453" rx="36" ry="24"/><text x="3470" y="3459">271</text></g>
<g id="n41" class="n"><ellipse cx="3565" cy="3453" rx="36" ry="24"/><text x="3565" y="3459">41</text></g>
<g id="n275" class="n"><ellipse cx="3662" cy="3453" rx="36" ry="24"/><text x="3662" y="3459">275</text></g>
<g id="n38" class="n"><ellipse cx="3758" cy="3453" rx="36" ry="24"/><text x="3758" y="3459">38</text></g>
<g id="n43" class="n l"><ellipse cx="3854" cy="3453" rx="36" ry="24"/><text x="3854" y="3459">43</text></g>
<g id="n371" class="n l"><ellipse cx="6582" cy="3453" rx="36" ry="24"/><text x="6582" y="3459">371</text></g>
<g id="n120" class="n l"><ellipse cx="6679" cy="3453" rx="36" ry="24"/><text x="6679" y="3459">120</text></g>
<g id="n367" class="n"><ellipse cx="6774" cy="3453" rx="36" ry="24"/><text x="6774" y="3459">367</text></g>
<g id="n368" class="n l"><ellipse cx="6967" cy="3453" rx="36" ry="24"/><text x="6967" y="3459">368</text></g>
<g id="n366" class="n l"><ellipse cx="7062" cy="3453" rx="36" ry="24"/><text x="7062" y="3459">366</text></g>
<g id="n461" class="n l"><ellipse cx="62" cy="3570" rx="36" ry="24"/><text x="62" y="3576">461</text></g>
<g id="n450" class="n"><ellipse cx="158" cy="3570" rx="36" ry="24"/><text x="158" y="3576">450</text></g>
<g id="n211" class="n l"><ellipse cx="350" cy="3570" rx="36" ry="24"/><text x="350" y="3576">211</text></g>
<g id="n49" class="n"><ellipse cx="2974" cy="3570" rx="36" ry="24"/><text x="2974" y="3576">49</text></g>
<g id="n59" class="n"><ellipse cx="3070" cy="3570" rx="36" ry="24"/><text x="3070" y="3576">59</text></g>
<g id="n281" class="n l"><ellipse cx="3566" cy="3570" rx="36" ry="24"/><text x="3566" y="3576">281</text></g>
<g id="n40" class="n"><ellipse cx="3662" cy="3570" rx="36" ry="24"/><text x="3662" y="3576">40</text></g>
<g id="n272" class="n"><ellipse cx="3758" cy="3570" rx="36" ry="24"/><text x="3758" y="3576">272</text></g>
<g id="n278" class="n l"><ellipse cx="3854" cy="3570" rx="36" ry="24"/><text x="3854" y="3576">278</text></g>
<g id="n127" class="n l"><ellipse cx="6774" cy="3570" rx="36" ry="24"/><text x="6774" y="3576">127</text></g>
<g id="n210" class="n l"><ellipse cx="124" cy="3687" rx="36" ry="24"/><text x="124" y="3693">210</text></g>
<g id="n216" class="n"><ellipse cx="219" cy="3687" rx="36" ry="24"/><text x="219" y="3693">216</text></g>
<g id="n289" class="n l"><ellipse cx="2932" cy="3687" rx="36" ry="24"/><text x="2932" y="3693">289</text></g>
<g id="n287" class="n"><ellipse cx="3028" cy="3687" rx="36" ry="24"/><text x="3028" y="3693">287</text></g>
<g id="n297" class="n"><ellipse cx="3124" cy="3687" rx="36" ry="24"/><text x="3124" y="3693">297</text></g>
<g id="n280" class="n"><ellipse cx="3662" cy="3687" rx="36" ry="24"/><text x="3662" y="3693">280</text></g>
<g id="n32" class="n l"><ellipse cx="3758" cy="3687" rx="36" ry="24"/><text x="3758" y="3693">32</text></g>
<g id="n456" class="n l"><ellipse cx="219" cy="3805" rx="36" ry="24"/><text x="219" y="3811">456</text></g>
<g id="n47" class="n l"><ellipse cx="2885" cy="3805" rx="36" ry="24"/><text x="2885" y="3811">47</text></g>
<g id="n57" class="n l"><ellipse cx="2981" cy="3805" rx="36" ry="24"/><text x="2981" y="3811">57</text></g>
<g id="n293" class="n"><ellipse cx="3078" cy="3805" rx="36" ry="24"/><text x="3078" y="3811">293</text></g>
<g id="n295" class="n"><ellipse cx="3174" cy="3805" rx="36" ry="24"/><text x="3174" y="3811">295</text></g>
<g id="n298" class="n"><ellipse cx="3290" cy="3805" rx="36" ry="24"/><text x="3290" y="3811">298</text></g>
<g id="n270" class="n"><ellipse cx="3662" cy="3805" rx="36" ry="24"/><text x="3662" y="3811">270</text></g>
<g id="n53" class="n l"><ellipse cx="2885" cy="3922" rx="36" ry="24"/><text x="2885" y="3928">53</text></g>
<g id="n50" class="n"><ellipse cx="2981" cy="3922" rx="36" ry="24"/><text x="2981" y="3928">50</text></g>
<g id="n52" class="n"><ellipse cx="3078" cy="3922" rx="36" ry="24"/><text x="3078" y="3928">52</text></g>
<g id="n55" class="n"><ellipse cx="3174" cy="3922" rx="36" ry="24"/><text x="3174" y="3928">55</text></g>
<g id="n285" class="n"><ellipse cx="3270" cy="3922" rx="36" ry="24"/><text x="3270" y="3928">285</text></g>
<g id="n58" class="n l"><ellipse cx="3365" cy="3922" rx="36" ry="24"/><text x="3365" y="3928">58</text></g>
<g id="n30" class="n"><ellipse cx="3662" cy="3922" rx="36" ry="24"/><text x="3662" y="3928">30</text></g>
<g id="n290" class="n l"><ellipse cx="2885" cy="4039" rx="36" ry="24"/><text x="2885" y="4045">290</text></g>
<g id="n296" class="n"><ellipse cx="2981" cy="4039" rx="36" ry="24"/><text x="2981" y="4045">296</text></g>
<g id="n292" class="n l"><ellipse cx="3078" cy="4039" rx="36" ry="24"/><text x="3078" y="4045">292</text></g>
<g id="n46" class="n"><ellipse cx="3174" cy="4039" rx="36" ry="24"/><text x="3174" y="4045">46</text></g>
<g id="n45" class="n l"><ellipse cx="3270" cy="4039" rx="36" ry="24"/><text x="3270" y="4045">45</text></g>
<g id="n291" class="n"><ellipse cx="3365" cy="4039" rx="36" ry="24"/><text x="3365" y="4045">291</text></g>
<g id="n36" class="n"><ellipse cx="3662" cy="4039" rx="36" ry="24"/><text x="3662" y="4045">36</text></g>
<g id="n56" class="n l"><ellipse cx="2981" cy="4157" rx="36" ry="24"/><text x="2981" y="4163">56</text></g>
<g id="n286" class="n l"><ellipse cx="3174" cy="4157" rx="36" ry="24"/><text x="3174" y="4163">286</text></g>
<g id="n51" class="n l"><ellipse cx="3365" cy="4157" rx="36" ry="24"/><text x="3365" y="4163">51</text></g>
<g id="n276" class="n l"><ellipse cx="3662" cy="4157" rx="36" ry="24"/><text x="3662" y="4163">276</text></g>
</g>
</g>
</svg>
